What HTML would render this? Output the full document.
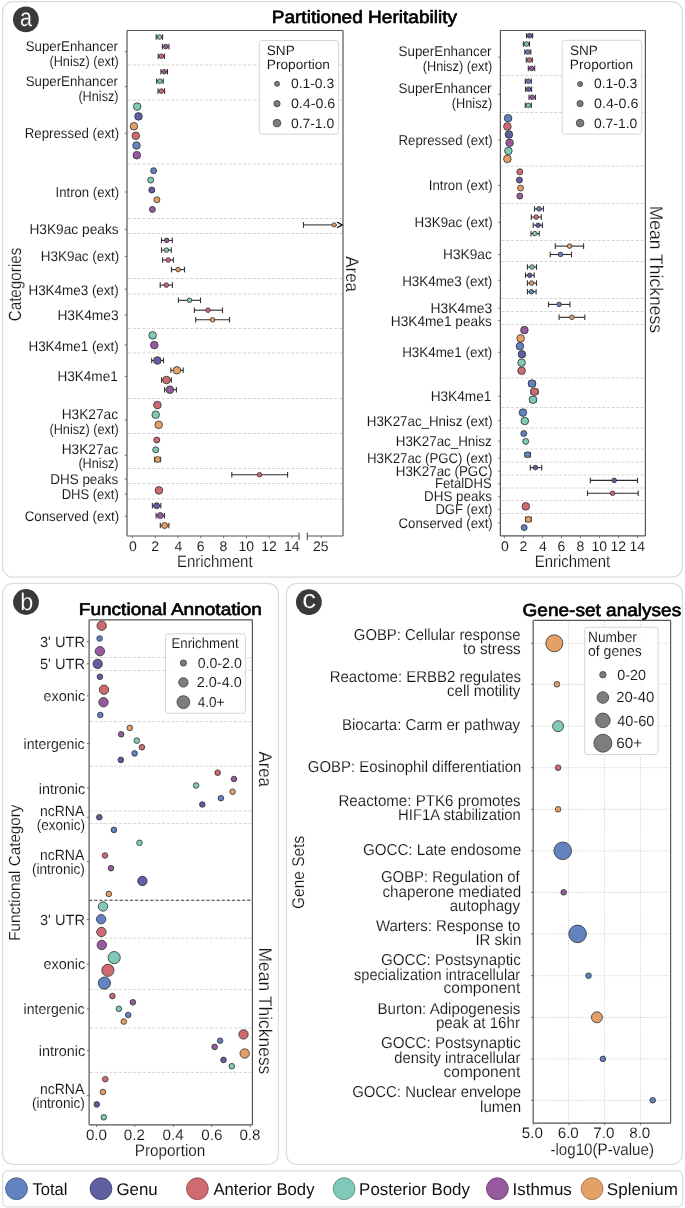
<!DOCTYPE html>
<html><head><meta charset="utf-8"><title>Figure</title>
<style>html,body{margin:0;padding:0;background:#fff;overflow:hidden;}svg{display:block;will-change:transform;text-rendering:geometricPrecision;}
text{font-family:"Liberation Sans", sans-serif;}</style></head>
<body>
<svg width="685" height="1208" viewBox="0 0 685 1208" font-family='"Liberation Sans", sans-serif'>
<rect width="685" height="1208" fill="#fff"/>
<rect x="2.6" y="1.6" width="679.80" height="575.60" rx="10.5" ry="10.5" fill="#fff" stroke="#dcdcdc" stroke-width="1.2"/>
<rect x="2.6" y="583.4" width="275.80" height="581.10" rx="10.5" ry="10.5" fill="#fff" stroke="#dcdcdc" stroke-width="1.2"/>
<rect x="286.4" y="583.4" width="396.00" height="581.10" rx="10.5" ry="10.5" fill="#fff" stroke="#dcdcdc" stroke-width="1.2"/>
<rect x="2.6" y="1170.9" width="680.00" height="36.00" rx="5" ry="5" fill="#fff" stroke="#dcdcdc" stroke-width="1.2"/>
<circle cx="25.9" cy="19.4" r="12.9" fill="#3a3a3a"/>
<circle cx="26.0" cy="602.0" r="12.9" fill="#3a3a3a"/>
<circle cx="308.9" cy="602.1" r="12.9" fill="#3a3a3a"/>
<text x="19.95" y="25.8" font-size="25.5" font-weight="normal" fill="#fff" stroke="#3a3a3a" stroke-width="0.2" textLength="12.00" lengthAdjust="spacingAndGlyphs">a</text>
<text x="20.13" y="610.4" font-size="24.0" font-weight="normal" fill="#fff" stroke="#3a3a3a" stroke-width="0.2" textLength="13.00" lengthAdjust="spacingAndGlyphs">b</text>
<text x="302.34" y="608.0" font-size="26" font-weight="normal" fill="#fff" stroke="#3a3a3a" stroke-width="0.2" textLength="13.83" lengthAdjust="spacingAndGlyphs">c</text>
<line x1="128.0" y1="65.0" x2="342.0" y2="65.0" stroke="#d4d4d4" stroke-width="1.0" stroke-dasharray="3.0 1.8"/>
<line x1="128.0" y1="100.0" x2="342.0" y2="100.0" stroke="#d4d4d4" stroke-width="1.0" stroke-dasharray="3.0 1.8"/>
<line x1="128.0" y1="164.0" x2="342.0" y2="164.0" stroke="#d4d4d4" stroke-width="1.0" stroke-dasharray="3.0 1.8"/>
<line x1="128.0" y1="218.5" x2="342.0" y2="218.5" stroke="#d4d4d4" stroke-width="1.0" stroke-dasharray="3.0 1.8"/>
<line x1="128.0" y1="233.5" x2="342.0" y2="233.5" stroke="#d4d4d4" stroke-width="1.0" stroke-dasharray="3.0 1.8"/>
<line x1="128.0" y1="278.5" x2="342.0" y2="278.5" stroke="#d4d4d4" stroke-width="1.0" stroke-dasharray="3.0 1.8"/>
<line x1="128.0" y1="294.0" x2="342.0" y2="294.0" stroke="#d4d4d4" stroke-width="1.0" stroke-dasharray="3.0 1.8"/>
<line x1="128.0" y1="328.5" x2="342.0" y2="328.5" stroke="#d4d4d4" stroke-width="1.0" stroke-dasharray="3.0 1.8"/>
<line x1="128.0" y1="353.0" x2="342.0" y2="353.0" stroke="#d4d4d4" stroke-width="1.0" stroke-dasharray="3.0 1.8"/>
<line x1="128.0" y1="398.5" x2="342.0" y2="398.5" stroke="#d4d4d4" stroke-width="1.0" stroke-dasharray="3.0 1.8"/>
<line x1="128.0" y1="433.5" x2="342.0" y2="433.5" stroke="#d4d4d4" stroke-width="1.0" stroke-dasharray="3.0 1.8"/>
<line x1="128.0" y1="468.5" x2="342.0" y2="468.5" stroke="#d4d4d4" stroke-width="1.0" stroke-dasharray="3.0 1.8"/>
<line x1="128.0" y1="483.5" x2="342.0" y2="483.5" stroke="#d4d4d4" stroke-width="1.0" stroke-dasharray="3.0 1.8"/>
<line x1="128.0" y1="499.0" x2="342.0" y2="499.0" stroke="#d4d4d4" stroke-width="1.0" stroke-dasharray="3.0 1.8"/>
<rect x="259.3" y="40.5" width="79.20" height="93.70" rx="2.5" ry="2.5" fill="#fff" fill-opacity="0.92" stroke="#d6d6d6" stroke-width="1"/>
<text x="266.79" y="54.5" font-size="13.5" font-weight="normal" fill="#141414" stroke="#fff" stroke-width="0.048" textLength="27.98" lengthAdjust="spacingAndGlyphs">SNP</text>
<text x="266.79" y="68.7" font-size="13.5" font-weight="normal" fill="#141414" stroke="#fff" stroke-width="0.048" textLength="63.22" lengthAdjust="spacingAndGlyphs">Proportion</text>
<circle cx="277.00" cy="83.80" r="2.5" fill="#7d7d7d" stroke="#3a3a3a" stroke-width="0.8"/>
<text x="290.90" y="88.3" font-size="13.5" font-weight="normal" fill="#141414" stroke="#fff" stroke-width="0.048" textLength="43.33" lengthAdjust="spacingAndGlyphs">0.1-0.3</text>
<circle cx="277.00" cy="103.70" r="3.1" fill="#7d7d7d" stroke="#3a3a3a" stroke-width="0.8"/>
<text x="290.90" y="108.1" font-size="13.5" font-weight="normal" fill="#141414" stroke="#fff" stroke-width="0.048" textLength="44.39" lengthAdjust="spacingAndGlyphs">0.4-0.6</text>
<circle cx="277.00" cy="123.10" r="3.8" fill="#7d7d7d" stroke="#3a3a3a" stroke-width="0.8"/>
<text x="290.90" y="127.6" font-size="13.5" font-weight="normal" fill="#141414" stroke="#fff" stroke-width="0.048" textLength="43.33" lengthAdjust="spacingAndGlyphs">0.7-1.0</text>
<line x1="127.0" y1="30.5" x2="343.0" y2="30.5" stroke="#555" stroke-width="1.2"/>
<line x1="127.0" y1="30.5" x2="127.0" y2="536.0" stroke="#555" stroke-width="1.2"/>
<line x1="343.0" y1="30.5" x2="343.0" y2="536.0" stroke="#555" stroke-width="1.2"/>
<line x1="127.0" y1="536.0" x2="299.1" y2="536.0" stroke="#555" stroke-width="1.2"/>
<line x1="307.3" y1="536.0" x2="343.0" y2="536.0" stroke="#555" stroke-width="1.2"/>
<line x1="299.1" y1="532.4" x2="299.1" y2="540.2" stroke="#555" stroke-width="1.1"/>
<line x1="307.3" y1="532.4" x2="307.3" y2="540.2" stroke="#555" stroke-width="1.1"/>
<line x1="132.4" y1="536.0" x2="132.4" y2="538.2" stroke="#666" stroke-width="0.9"/>
<text x="128.90" y="550.7" font-size="14.0" font-weight="normal" fill="#141414" stroke="#fff" stroke-width="0.065" >0</text>
<line x1="155.20000000000002" y1="536.0" x2="155.20000000000002" y2="538.2" stroke="#666" stroke-width="0.9"/>
<text x="151.20" y="550.7" font-size="14.0" font-weight="normal" fill="#141414" stroke="#fff" stroke-width="0.065" >2</text>
<line x1="178.0" y1="536.0" x2="178.0" y2="538.2" stroke="#666" stroke-width="0.9"/>
<text x="174.50" y="550.7" font-size="14.0" font-weight="normal" fill="#141414" stroke="#fff" stroke-width="0.065" >4</text>
<line x1="200.8" y1="536.0" x2="200.8" y2="538.2" stroke="#666" stroke-width="0.9"/>
<text x="196.80" y="550.7" font-size="14.0" font-weight="normal" fill="#141414" stroke="#fff" stroke-width="0.065" >6</text>
<line x1="223.60000000000002" y1="536.0" x2="223.60000000000002" y2="538.2" stroke="#666" stroke-width="0.9"/>
<text x="219.60" y="550.7" font-size="14.0" font-weight="normal" fill="#141414" stroke="#fff" stroke-width="0.065" >8</text>
<line x1="246.4" y1="536.0" x2="246.4" y2="538.2" stroke="#666" stroke-width="0.9"/>
<text x="238.40" y="550.7" font-size="14.0" font-weight="normal" fill="#141414" stroke="#fff" stroke-width="0.065" >10</text>
<line x1="269.20000000000005" y1="536.0" x2="269.20000000000005" y2="538.2" stroke="#666" stroke-width="0.9"/>
<text x="261.20" y="550.7" font-size="14.0" font-weight="normal" fill="#141414" stroke="#fff" stroke-width="0.065" >12</text>
<line x1="292.0" y1="536.0" x2="292.0" y2="538.2" stroke="#666" stroke-width="0.9"/>
<text x="284.00" y="550.7" font-size="14.0" font-weight="normal" fill="#141414" stroke="#fff" stroke-width="0.065" >14</text>
<line x1="321.3" y1="536.0" x2="321.3" y2="538.2" stroke="#666" stroke-width="0.9"/>
<text x="313.00" y="550.7" font-size="14.0" font-weight="normal" fill="#141414" stroke="#fff" stroke-width="0.065" >25</text>
<text x="176.91" y="566.7" font-size="16.8" font-weight="normal" fill="#141414" stroke="#fff" stroke-width="0.163" textLength="75.68" lengthAdjust="spacingAndGlyphs">Enrichment</text>
<text x="-0.87" y="0" font-size="17.6" font-weight="normal" fill="#141414" stroke="#fff" stroke-width="0.191" textLength="73.75" lengthAdjust="spacingAndGlyphs" transform="translate(20.9,320.5) rotate(-90)">Categories</text>
<text x="0.00" y="0" font-size="18.4" font-weight="normal" fill="#141414" stroke="#fff" stroke-width="0.219" textLength="35.67" lengthAdjust="spacingAndGlyphs" transform="translate(346.1,256.3) rotate(90)">Area</text>
<text x="25.66" y="50.5" font-size="14.1" font-weight="normal" fill="#141414" stroke="#fff" stroke-width="0.068" textLength="92.30" lengthAdjust="spacingAndGlyphs">SuperEnhancer</text>
<text x="49.40" y="66.0" font-size="14.1" font-weight="normal" fill="#141414" stroke="#fff" stroke-width="0.068" textLength="69.27" lengthAdjust="spacingAndGlyphs">(Hnisz) (ext)</text>
<text x="25.66" y="85.6" font-size="14.1" font-weight="normal" fill="#141414" stroke="#fff" stroke-width="0.068" textLength="92.30" lengthAdjust="spacingAndGlyphs">SuperEnhancer</text>
<text x="78.40" y="100.6" font-size="14.1" font-weight="normal" fill="#141414" stroke="#fff" stroke-width="0.068" textLength="40.18" lengthAdjust="spacingAndGlyphs">(Hnisz)</text>
<text x="24.66" y="137.8" font-size="14.1" font-weight="normal" fill="#141414" stroke="#fff" stroke-width="0.068" textLength="94.54" lengthAdjust="spacingAndGlyphs">Repressed (ext)</text>
<text x="55.57" y="197.0" font-size="14.1" font-weight="normal" fill="#141414" stroke="#fff" stroke-width="0.068" textLength="63.51" lengthAdjust="spacingAndGlyphs">Intron (ext)</text>
<text x="29.43" y="234.0" font-size="14.1" font-weight="normal" fill="#141414" stroke="#fff" stroke-width="0.068" textLength="89.23" lengthAdjust="spacingAndGlyphs">H3K9ac peaks</text>
<text x="40.75" y="261.0" font-size="14.1" font-weight="normal" fill="#141414" stroke="#fff" stroke-width="0.068" textLength="78.45" lengthAdjust="spacingAndGlyphs">H3K9ac (ext)</text>
<text x="28.45" y="294.6" font-size="14.1" font-weight="normal" fill="#141414" stroke="#fff" stroke-width="0.068" textLength="90.30" lengthAdjust="spacingAndGlyphs">H3K4me3 (ext)</text>
<text x="57.42" y="320.2" font-size="14.1" font-weight="normal" fill="#141414" stroke="#fff" stroke-width="0.068" textLength="61.23" lengthAdjust="spacingAndGlyphs">H3K4me3</text>
<text x="28.45" y="350.6" font-size="14.1" font-weight="normal" fill="#141414" stroke="#fff" stroke-width="0.068" textLength="90.30" lengthAdjust="spacingAndGlyphs">H3K4me1 (ext)</text>
<text x="57.44" y="381.1" font-size="14.1" font-weight="normal" fill="#141414" stroke="#fff" stroke-width="0.068" textLength="60.31" lengthAdjust="spacingAndGlyphs">H3K4me1</text>
<text x="61.63" y="418.6" font-size="14.1" font-weight="normal" fill="#141414" stroke="#fff" stroke-width="0.068" textLength="56.36" lengthAdjust="spacingAndGlyphs">H3K27ac</text>
<text x="49.40" y="433.8" font-size="14.1" font-weight="normal" fill="#141414" stroke="#fff" stroke-width="0.068" textLength="69.27" lengthAdjust="spacingAndGlyphs">(Hnisz) (ext)</text>
<text x="61.63" y="453.7" font-size="14.1" font-weight="normal" fill="#141414" stroke="#fff" stroke-width="0.068" textLength="56.36" lengthAdjust="spacingAndGlyphs">H3K27ac</text>
<text x="78.40" y="468.3" font-size="14.1" font-weight="normal" fill="#141414" stroke="#fff" stroke-width="0.068" textLength="40.18" lengthAdjust="spacingAndGlyphs">(Hnisz)</text>
<text x="50.25" y="484.0" font-size="14.1" font-weight="normal" fill="#141414" stroke="#fff" stroke-width="0.068" textLength="68.02" lengthAdjust="spacingAndGlyphs">DHS peaks</text>
<text x="61.68" y="499.2" font-size="14.1" font-weight="normal" fill="#141414" stroke="#fff" stroke-width="0.068" textLength="57.13" lengthAdjust="spacingAndGlyphs">DHS (ext)</text>
<text x="24.66" y="521.4" font-size="14.1" font-weight="normal" fill="#141414" stroke="#fff" stroke-width="0.068" textLength="94.54" lengthAdjust="spacingAndGlyphs">Conserved (ext)</text>
<line x1="124.8" y1="51.7" x2="127.0" y2="51.7" stroke="#666" stroke-width="0.9"/>
<line x1="124.8" y1="86.6" x2="127.0" y2="86.6" stroke="#666" stroke-width="0.9"/>
<line x1="124.8" y1="133.3" x2="127.0" y2="133.3" stroke="#666" stroke-width="0.9"/>
<line x1="124.8" y1="192.0" x2="127.0" y2="192.0" stroke="#666" stroke-width="0.9"/>
<line x1="124.8" y1="229.4" x2="127.0" y2="229.4" stroke="#666" stroke-width="0.9"/>
<line x1="124.8" y1="256.4" x2="127.0" y2="256.4" stroke="#666" stroke-width="0.9"/>
<line x1="124.8" y1="289.2" x2="127.0" y2="289.2" stroke="#666" stroke-width="0.9"/>
<line x1="124.8" y1="315.1" x2="127.0" y2="315.1" stroke="#666" stroke-width="0.9"/>
<line x1="124.8" y1="344.9" x2="127.0" y2="344.9" stroke="#666" stroke-width="0.9"/>
<line x1="124.8" y1="376.4" x2="127.0" y2="376.4" stroke="#666" stroke-width="0.9"/>
<line x1="124.8" y1="420.0" x2="127.0" y2="420.0" stroke="#666" stroke-width="0.9"/>
<line x1="124.8" y1="455.3" x2="127.0" y2="455.3" stroke="#666" stroke-width="0.9"/>
<line x1="124.8" y1="479.1" x2="127.0" y2="479.1" stroke="#666" stroke-width="0.9"/>
<line x1="124.8" y1="494.2" x2="127.0" y2="494.2" stroke="#666" stroke-width="0.9"/>
<line x1="124.8" y1="516.3" x2="127.0" y2="516.3" stroke="#666" stroke-width="0.9"/>
<line x1="156.2" y1="37.0" x2="162.6" y2="37.0" stroke="#2a2a2a" stroke-width="1.1"/>
<line x1="156.2" y1="34.20" x2="156.2" y2="39.80" stroke="#333" stroke-width="1.1"/>
<line x1="162.6" y1="34.20" x2="162.6" y2="39.80" stroke="#333" stroke-width="1.1"/>
<circle cx="159.40" cy="37.00" r="2.3" fill="#80C9B9" stroke="#2e2e2e" stroke-width="0.8"/>
<line x1="162.4" y1="46.6" x2="169.0" y2="46.6" stroke="#2a2a2a" stroke-width="1.1"/>
<line x1="162.4" y1="43.80" x2="162.4" y2="49.40" stroke="#333" stroke-width="1.1"/>
<line x1="169.0" y1="43.80" x2="169.0" y2="49.40" stroke="#333" stroke-width="1.1"/>
<circle cx="165.70" cy="46.60" r="2.3" fill="#985A9E" stroke="#2e2e2e" stroke-width="0.8"/>
<line x1="158.2" y1="56.2" x2="164.4" y2="56.2" stroke="#2a2a2a" stroke-width="1.1"/>
<line x1="158.2" y1="53.40" x2="158.2" y2="59.00" stroke="#333" stroke-width="1.1"/>
<line x1="164.4" y1="53.40" x2="164.4" y2="59.00" stroke="#333" stroke-width="1.1"/>
<circle cx="161.30" cy="56.20" r="2.3" fill="#CF6B70" stroke="#2e2e2e" stroke-width="0.8"/>
<line x1="160.9" y1="71.7" x2="167.5" y2="71.7" stroke="#2a2a2a" stroke-width="1.1"/>
<line x1="160.9" y1="68.90" x2="160.9" y2="74.50" stroke="#333" stroke-width="1.1"/>
<line x1="167.5" y1="68.90" x2="167.5" y2="74.50" stroke="#333" stroke-width="1.1"/>
<circle cx="164.20" cy="71.70" r="2.3" fill="#985A9E" stroke="#2e2e2e" stroke-width="0.8"/>
<line x1="156.6" y1="81.2" x2="163.2" y2="81.2" stroke="#2a2a2a" stroke-width="1.1"/>
<line x1="156.6" y1="78.40" x2="156.6" y2="84.00" stroke="#333" stroke-width="1.1"/>
<line x1="163.2" y1="78.40" x2="163.2" y2="84.00" stroke="#333" stroke-width="1.1"/>
<circle cx="159.90" cy="81.20" r="2.3" fill="#80C9B9" stroke="#2e2e2e" stroke-width="0.8"/>
<line x1="158.0" y1="91.1" x2="164.6" y2="91.1" stroke="#2a2a2a" stroke-width="1.1"/>
<line x1="158.0" y1="88.30" x2="158.0" y2="93.90" stroke="#333" stroke-width="1.1"/>
<line x1="164.6" y1="88.30" x2="164.6" y2="93.90" stroke="#333" stroke-width="1.1"/>
<circle cx="161.30" cy="91.10" r="2.3" fill="#CF6B70" stroke="#2e2e2e" stroke-width="0.8"/>
<circle cx="137.20" cy="106.60" r="3.8" fill="#80C9B9" stroke="#2e2e2e" stroke-width="0.8"/>
<circle cx="138.50" cy="116.40" r="3.8" fill="#5E5FA0" stroke="#2e2e2e" stroke-width="0.8"/>
<circle cx="133.90" cy="126.30" r="3.8" fill="#E5A067" stroke="#2e2e2e" stroke-width="0.8"/>
<circle cx="135.80" cy="135.80" r="3.8" fill="#CF6B70" stroke="#2e2e2e" stroke-width="0.8"/>
<circle cx="136.50" cy="145.50" r="3.8" fill="#6283C0" stroke="#2e2e2e" stroke-width="0.8"/>
<circle cx="136.80" cy="155.20" r="3.8" fill="#985A9E" stroke="#2e2e2e" stroke-width="0.8"/>
<circle cx="153.60" cy="170.70" r="3.0" fill="#6283C0" stroke="#2e2e2e" stroke-width="0.8"/>
<circle cx="150.70" cy="180.10" r="3.0" fill="#80C9B9" stroke="#2e2e2e" stroke-width="0.8"/>
<circle cx="151.80" cy="190.00" r="3.0" fill="#5E5FA0" stroke="#2e2e2e" stroke-width="0.8"/>
<circle cx="156.90" cy="199.80" r="3.0" fill="#E5A067" stroke="#2e2e2e" stroke-width="0.8"/>
<circle cx="152.40" cy="209.40" r="3.0" fill="#985A9E" stroke="#2e2e2e" stroke-width="0.8"/>
<line x1="161.5" y1="240.4" x2="172.3" y2="240.4" stroke="#2a2a2a" stroke-width="1.1"/>
<line x1="161.5" y1="237.60" x2="161.5" y2="243.20" stroke="#333" stroke-width="1.1"/>
<line x1="172.3" y1="237.60" x2="172.3" y2="243.20" stroke="#333" stroke-width="1.1"/>
<circle cx="166.70" cy="240.40" r="2.3" fill="#985A9E" stroke="#2e2e2e" stroke-width="0.8"/>
<line x1="161.5" y1="250.1" x2="171.3" y2="250.1" stroke="#2a2a2a" stroke-width="1.1"/>
<line x1="161.5" y1="247.30" x2="161.5" y2="252.90" stroke="#333" stroke-width="1.1"/>
<line x1="171.3" y1="247.30" x2="171.3" y2="252.90" stroke="#333" stroke-width="1.1"/>
<circle cx="166.40" cy="250.10" r="2.3" fill="#80C9B9" stroke="#2e2e2e" stroke-width="0.8"/>
<line x1="162.6" y1="260.0" x2="173.4" y2="260.0" stroke="#2a2a2a" stroke-width="1.1"/>
<line x1="162.6" y1="257.20" x2="162.6" y2="262.80" stroke="#333" stroke-width="1.1"/>
<line x1="173.4" y1="257.20" x2="173.4" y2="262.80" stroke="#333" stroke-width="1.1"/>
<circle cx="168.20" cy="260.00" r="2.3" fill="#CF6B70" stroke="#2e2e2e" stroke-width="0.8"/>
<line x1="171.5" y1="269.6" x2="184.5" y2="269.6" stroke="#2a2a2a" stroke-width="1.1"/>
<line x1="171.5" y1="266.80" x2="171.5" y2="272.40" stroke="#333" stroke-width="1.1"/>
<line x1="184.5" y1="266.80" x2="184.5" y2="272.40" stroke="#333" stroke-width="1.1"/>
<circle cx="178.10" cy="269.60" r="2.3" fill="#E5A067" stroke="#2e2e2e" stroke-width="0.8"/>
<line x1="160.2" y1="285.1" x2="172.4" y2="285.1" stroke="#2a2a2a" stroke-width="1.1"/>
<line x1="160.2" y1="282.30" x2="160.2" y2="287.90" stroke="#333" stroke-width="1.1"/>
<line x1="172.4" y1="282.30" x2="172.4" y2="287.90" stroke="#333" stroke-width="1.1"/>
<circle cx="166.30" cy="285.10" r="2.3" fill="#CF6B70" stroke="#2e2e2e" stroke-width="0.8"/>
<line x1="178.4" y1="300.3" x2="200.5" y2="300.3" stroke="#2a2a2a" stroke-width="1.1"/>
<line x1="178.4" y1="297.50" x2="178.4" y2="303.10" stroke="#333" stroke-width="1.1"/>
<line x1="200.5" y1="297.50" x2="200.5" y2="303.10" stroke="#333" stroke-width="1.1"/>
<circle cx="189.50" cy="300.30" r="2.3" fill="#80C9B9" stroke="#2e2e2e" stroke-width="0.8"/>
<line x1="194.4" y1="310.2" x2="222.5" y2="310.2" stroke="#2a2a2a" stroke-width="1.1"/>
<line x1="194.4" y1="307.40" x2="194.4" y2="313.00" stroke="#333" stroke-width="1.1"/>
<line x1="222.5" y1="307.40" x2="222.5" y2="313.00" stroke="#333" stroke-width="1.1"/>
<circle cx="208.00" cy="310.20" r="2.3" fill="#CF6B70" stroke="#2e2e2e" stroke-width="0.8"/>
<line x1="195.7" y1="319.8" x2="229.5" y2="319.8" stroke="#2a2a2a" stroke-width="1.1"/>
<line x1="195.7" y1="317.00" x2="195.7" y2="322.60" stroke="#333" stroke-width="1.1"/>
<line x1="229.5" y1="317.00" x2="229.5" y2="322.60" stroke="#333" stroke-width="1.1"/>
<circle cx="212.60" cy="319.80" r="2.3" fill="#E5A067" stroke="#2e2e2e" stroke-width="0.8"/>
<circle cx="152.60" cy="335.40" r="3.8" fill="#80C9B9" stroke="#2e2e2e" stroke-width="0.8"/>
<circle cx="154.30" cy="345.10" r="3.8" fill="#985A9E" stroke="#2e2e2e" stroke-width="0.8"/>
<line x1="151.7" y1="360.5" x2="163.5" y2="360.5" stroke="#2a2a2a" stroke-width="1.1"/>
<line x1="151.7" y1="357.70" x2="151.7" y2="363.30" stroke="#333" stroke-width="1.1"/>
<line x1="163.5" y1="357.70" x2="163.5" y2="363.30" stroke="#333" stroke-width="1.1"/>
<circle cx="157.40" cy="360.50" r="3.8" fill="#5E5FA0" stroke="#2e2e2e" stroke-width="0.8"/>
<line x1="170.9" y1="370.3" x2="183.2" y2="370.3" stroke="#2a2a2a" stroke-width="1.1"/>
<line x1="170.9" y1="367.50" x2="170.9" y2="373.10" stroke="#333" stroke-width="1.1"/>
<line x1="183.2" y1="367.50" x2="183.2" y2="373.10" stroke="#333" stroke-width="1.1"/>
<circle cx="176.90" cy="370.30" r="3.8" fill="#E5A067" stroke="#2e2e2e" stroke-width="0.8"/>
<line x1="161.6" y1="380.0" x2="171.4" y2="380.0" stroke="#2a2a2a" stroke-width="1.1"/>
<line x1="161.6" y1="377.20" x2="161.6" y2="382.80" stroke="#333" stroke-width="1.1"/>
<line x1="171.4" y1="377.20" x2="171.4" y2="382.80" stroke="#333" stroke-width="1.1"/>
<circle cx="166.50" cy="380.00" r="3.8" fill="#CF6B70" stroke="#2e2e2e" stroke-width="0.8"/>
<line x1="164.6" y1="389.7" x2="176.4" y2="389.7" stroke="#2a2a2a" stroke-width="1.1"/>
<line x1="164.6" y1="386.90" x2="164.6" y2="392.50" stroke="#333" stroke-width="1.1"/>
<line x1="176.4" y1="386.90" x2="176.4" y2="392.50" stroke="#333" stroke-width="1.1"/>
<circle cx="169.90" cy="389.70" r="3.8" fill="#985A9E" stroke="#2e2e2e" stroke-width="0.8"/>
<circle cx="157.40" cy="405.10" r="3.8" fill="#CF6B70" stroke="#2e2e2e" stroke-width="0.8"/>
<circle cx="155.70" cy="414.70" r="3.8" fill="#80C9B9" stroke="#2e2e2e" stroke-width="0.8"/>
<circle cx="158.70" cy="424.80" r="3.8" fill="#E5A067" stroke="#2e2e2e" stroke-width="0.8"/>
<circle cx="156.80" cy="440.00" r="3.0" fill="#CF6B70" stroke="#2e2e2e" stroke-width="0.8"/>
<circle cx="155.70" cy="449.80" r="3.0" fill="#80C9B9" stroke="#2e2e2e" stroke-width="0.8"/>
<line x1="154.6" y1="459.5" x2="160.6" y2="459.5" stroke="#2a2a2a" stroke-width="1.1"/>
<line x1="154.6" y1="456.70" x2="154.6" y2="462.30" stroke="#333" stroke-width="1.1"/>
<line x1="160.6" y1="456.70" x2="160.6" y2="462.30" stroke="#333" stroke-width="1.1"/>
<circle cx="157.60" cy="459.50" r="3.0" fill="#E5A067" stroke="#2e2e2e" stroke-width="0.8"/>
<line x1="231.8" y1="474.7" x2="287.6" y2="474.7" stroke="#2a2a2a" stroke-width="1.1"/>
<line x1="231.8" y1="471.90" x2="231.8" y2="477.50" stroke="#333" stroke-width="1.1"/>
<line x1="287.6" y1="471.90" x2="287.6" y2="477.50" stroke="#333" stroke-width="1.1"/>
<circle cx="259.50" cy="474.70" r="2.3" fill="#CF6B70" stroke="#2e2e2e" stroke-width="0.8"/>
<circle cx="158.90" cy="490.40" r="3.8" fill="#CF6B70" stroke="#2e2e2e" stroke-width="0.8"/>
<line x1="152.4" y1="505.7" x2="160.8" y2="505.7" stroke="#2a2a2a" stroke-width="1.1"/>
<line x1="152.4" y1="502.90" x2="152.4" y2="508.50" stroke="#333" stroke-width="1.1"/>
<line x1="160.8" y1="502.90" x2="160.8" y2="508.50" stroke="#333" stroke-width="1.1"/>
<circle cx="156.60" cy="505.70" r="3.0" fill="#5E5FA0" stroke="#2e2e2e" stroke-width="0.8"/>
<line x1="156.1" y1="515.6" x2="164.5" y2="515.6" stroke="#2a2a2a" stroke-width="1.1"/>
<line x1="156.1" y1="512.80" x2="156.1" y2="518.40" stroke="#333" stroke-width="1.1"/>
<line x1="164.5" y1="512.80" x2="164.5" y2="518.40" stroke="#333" stroke-width="1.1"/>
<circle cx="160.30" cy="515.60" r="3.0" fill="#985A9E" stroke="#2e2e2e" stroke-width="0.8"/>
<line x1="160.3" y1="525.5" x2="168.9" y2="525.5" stroke="#2a2a2a" stroke-width="1.1"/>
<line x1="160.3" y1="522.70" x2="160.3" y2="528.30" stroke="#333" stroke-width="1.1"/>
<line x1="168.9" y1="522.70" x2="168.9" y2="528.30" stroke="#333" stroke-width="1.1"/>
<circle cx="164.60" cy="525.50" r="3.0" fill="#E5A067" stroke="#2e2e2e" stroke-width="0.8"/>
<line x1="303.5" y1="224.9" x2="337" y2="224.9" stroke="#555" stroke-width="1.1"/>
<line x1="303.5" y1="222.0" x2="303.5" y2="227.8" stroke="#333" stroke-width="1.1"/>
<circle cx="334.10" cy="224.90" r="2.1" fill="#E5A067" stroke="#2e2e2e" stroke-width="0.8"/>
<polyline points="337.0,222.0 342.3,224.9 337.0,227.8" fill="none" stroke="#111" stroke-width="1.3"/>
<line x1="501.4" y1="75.5" x2="644.4" y2="75.5" stroke="#d4d4d4" stroke-width="1.0" stroke-dasharray="3.0 1.8"/>
<line x1="501.4" y1="112.5" x2="644.4" y2="112.5" stroke="#d4d4d4" stroke-width="1.0" stroke-dasharray="3.0 1.8"/>
<line x1="501.4" y1="166.0" x2="644.4" y2="166.0" stroke="#d4d4d4" stroke-width="1.0" stroke-dasharray="3.0 1.8"/>
<line x1="501.4" y1="203.5" x2="644.4" y2="203.5" stroke="#d4d4d4" stroke-width="1.0" stroke-dasharray="3.0 1.8"/>
<line x1="501.4" y1="240.5" x2="644.4" y2="240.5" stroke="#d4d4d4" stroke-width="1.0" stroke-dasharray="3.0 1.8"/>
<line x1="501.4" y1="261.5" x2="644.4" y2="261.5" stroke="#d4d4d4" stroke-width="1.0" stroke-dasharray="3.0 1.8"/>
<line x1="501.4" y1="298.5" x2="644.4" y2="298.5" stroke="#d4d4d4" stroke-width="1.0" stroke-dasharray="3.0 1.8"/>
<line x1="501.4" y1="311.5" x2="644.4" y2="311.5" stroke="#d4d4d4" stroke-width="1.0" stroke-dasharray="3.0 1.8"/>
<line x1="501.4" y1="324.5" x2="644.4" y2="324.5" stroke="#d4d4d4" stroke-width="1.0" stroke-dasharray="3.0 1.8"/>
<line x1="501.4" y1="378.0" x2="644.4" y2="378.0" stroke="#d4d4d4" stroke-width="1.0" stroke-dasharray="3.0 1.8"/>
<line x1="501.4" y1="407.5" x2="644.4" y2="407.5" stroke="#d4d4d4" stroke-width="1.0" stroke-dasharray="3.0 1.8"/>
<line x1="501.4" y1="428.0" x2="644.4" y2="428.0" stroke="#d4d4d4" stroke-width="1.0" stroke-dasharray="3.0 1.8"/>
<line x1="501.4" y1="449.0" x2="644.4" y2="449.0" stroke="#d4d4d4" stroke-width="1.0" stroke-dasharray="3.0 1.8"/>
<line x1="501.4" y1="462.0" x2="644.4" y2="462.0" stroke="#d4d4d4" stroke-width="1.0" stroke-dasharray="3.0 1.8"/>
<line x1="501.4" y1="475.0" x2="644.4" y2="475.0" stroke="#d4d4d4" stroke-width="1.0" stroke-dasharray="3.0 1.8"/>
<line x1="501.4" y1="488.0" x2="644.4" y2="488.0" stroke="#d4d4d4" stroke-width="1.0" stroke-dasharray="3.0 1.8"/>
<line x1="501.4" y1="500.5" x2="644.4" y2="500.5" stroke="#d4d4d4" stroke-width="1.0" stroke-dasharray="3.0 1.8"/>
<line x1="501.4" y1="513.5" x2="644.4" y2="513.5" stroke="#d4d4d4" stroke-width="1.0" stroke-dasharray="3.0 1.8"/>
<rect x="562.2" y="40.3" width="79.40" height="93.80" rx="2.5" ry="2.5" fill="#fff" fill-opacity="0.92" stroke="#d6d6d6" stroke-width="1"/>
<text x="569.90" y="54.5" font-size="13.5" font-weight="normal" fill="#141414" stroke="#fff" stroke-width="0.048" textLength="27.87" lengthAdjust="spacingAndGlyphs">SNP</text>
<text x="569.89" y="68.7" font-size="13.5" font-weight="normal" fill="#141414" stroke="#fff" stroke-width="0.048" textLength="63.22" lengthAdjust="spacingAndGlyphs">Proportion</text>
<circle cx="580.10" cy="84.10" r="2.5" fill="#7d7d7d" stroke="#3a3a3a" stroke-width="0.8"/>
<text x="594.00" y="88.3" font-size="13.5" font-weight="normal" fill="#141414" stroke="#fff" stroke-width="0.048" textLength="43.33" lengthAdjust="spacingAndGlyphs">0.1-0.3</text>
<circle cx="580.10" cy="103.60" r="3.1" fill="#7d7d7d" stroke="#3a3a3a" stroke-width="0.8"/>
<text x="594.00" y="108.1" font-size="13.5" font-weight="normal" fill="#141414" stroke="#fff" stroke-width="0.048" textLength="44.39" lengthAdjust="spacingAndGlyphs">0.4-0.6</text>
<circle cx="580.10" cy="123.10" r="3.8" fill="#7d7d7d" stroke="#3a3a3a" stroke-width="0.8"/>
<text x="594.00" y="127.6" font-size="13.5" font-weight="normal" fill="#141414" stroke="#fff" stroke-width="0.048" textLength="43.33" lengthAdjust="spacingAndGlyphs">0.7-1.0</text>
<line x1="500.4" y1="30.5" x2="645.4" y2="30.5" stroke="#555" stroke-width="1.2"/>
<line x1="500.4" y1="535.9" x2="645.4" y2="535.9" stroke="#555" stroke-width="1.2"/>
<line x1="500.4" y1="30.5" x2="500.4" y2="535.9" stroke="#555" stroke-width="1.2"/>
<line x1="645.4" y1="30.5" x2="645.4" y2="535.9" stroke="#555" stroke-width="1.2"/>
<line x1="504.4" y1="535.9" x2="504.4" y2="538.1" stroke="#666" stroke-width="0.9"/>
<text x="500.90" y="550.8" font-size="14.0" font-weight="normal" fill="#141414" stroke="#fff" stroke-width="0.065" >0</text>
<line x1="523.42" y1="535.9" x2="523.42" y2="538.1" stroke="#666" stroke-width="0.9"/>
<text x="519.42" y="550.8" font-size="14.0" font-weight="normal" fill="#141414" stroke="#fff" stroke-width="0.065" >2</text>
<line x1="542.4399999999999" y1="535.9" x2="542.4399999999999" y2="538.1" stroke="#666" stroke-width="0.9"/>
<text x="538.94" y="550.8" font-size="14.0" font-weight="normal" fill="#141414" stroke="#fff" stroke-width="0.065" >4</text>
<line x1="561.46" y1="535.9" x2="561.46" y2="538.1" stroke="#666" stroke-width="0.9"/>
<text x="557.46" y="550.8" font-size="14.0" font-weight="normal" fill="#141414" stroke="#fff" stroke-width="0.065" >6</text>
<line x1="580.48" y1="535.9" x2="580.48" y2="538.1" stroke="#666" stroke-width="0.9"/>
<text x="576.48" y="550.8" font-size="14.0" font-weight="normal" fill="#141414" stroke="#fff" stroke-width="0.065" >8</text>
<line x1="599.5" y1="535.9" x2="599.5" y2="538.1" stroke="#666" stroke-width="0.9"/>
<text x="591.50" y="550.8" font-size="14.0" font-weight="normal" fill="#141414" stroke="#fff" stroke-width="0.065" >10</text>
<line x1="618.52" y1="535.9" x2="618.52" y2="538.1" stroke="#666" stroke-width="0.9"/>
<text x="610.52" y="550.8" font-size="14.0" font-weight="normal" fill="#141414" stroke="#fff" stroke-width="0.065" >12</text>
<line x1="637.54" y1="535.9" x2="637.54" y2="538.1" stroke="#666" stroke-width="0.9"/>
<text x="629.54" y="550.8" font-size="14.0" font-weight="normal" fill="#141414" stroke="#fff" stroke-width="0.065" >14</text>
<text x="534.71" y="566.7" font-size="16.8" font-weight="normal" fill="#141414" stroke="#fff" stroke-width="0.163" textLength="75.38" lengthAdjust="spacingAndGlyphs">Enrichment</text>
<text x="-0.95" y="0" font-size="18.4" font-weight="normal" fill="#141414" stroke="#fff" stroke-width="0.219" textLength="127.30" lengthAdjust="spacingAndGlyphs" transform="translate(649.6,206.6) rotate(90)">Mean Thickness</text>
<text x="398.55" y="55.9" font-size="14.1" font-weight="normal" fill="#141414" stroke="#fff" stroke-width="0.068" textLength="93.00" lengthAdjust="spacingAndGlyphs">SuperEnhancer</text>
<text x="422.69" y="71.1" font-size="14.1" font-weight="normal" fill="#141414" stroke="#fff" stroke-width="0.068" textLength="69.57" lengthAdjust="spacingAndGlyphs">(Hnisz) (ext)</text>
<text x="398.55" y="92.9" font-size="14.1" font-weight="normal" fill="#141414" stroke="#fff" stroke-width="0.068" textLength="93.00" lengthAdjust="spacingAndGlyphs">SuperEnhancer</text>
<text x="451.80" y="107.9" font-size="14.1" font-weight="normal" fill="#141414" stroke="#fff" stroke-width="0.068" textLength="40.38" lengthAdjust="spacingAndGlyphs">(Hnisz)</text>
<text x="398.56" y="145.1" font-size="14.1" font-weight="normal" fill="#141414" stroke="#fff" stroke-width="0.068" textLength="94.23" lengthAdjust="spacingAndGlyphs">Repressed (ext)</text>
<text x="428.76" y="190.2" font-size="14.1" font-weight="normal" fill="#141414" stroke="#fff" stroke-width="0.068" textLength="63.92" lengthAdjust="spacingAndGlyphs">Intron (ext)</text>
<text x="414.55" y="227.4" font-size="14.1" font-weight="normal" fill="#141414" stroke="#fff" stroke-width="0.068" textLength="78.24" lengthAdjust="spacingAndGlyphs">H3K9ac (ext)</text>
<text x="443.03" y="259.1" font-size="14.1" font-weight="normal" fill="#141414" stroke="#fff" stroke-width="0.068" textLength="48.71" lengthAdjust="spacingAndGlyphs">H3K9ac</text>
<text x="402.15" y="285.6" font-size="14.1" font-weight="normal" fill="#141414" stroke="#fff" stroke-width="0.068" textLength="90.20" lengthAdjust="spacingAndGlyphs">H3K4me3 (ext)</text>
<text x="430.62" y="313.3" font-size="14.1" font-weight="normal" fill="#141414" stroke="#fff" stroke-width="0.068" textLength="61.64" lengthAdjust="spacingAndGlyphs">H3K4me3</text>
<text x="390.83" y="326.0" font-size="14.1" font-weight="normal" fill="#141414" stroke="#fff" stroke-width="0.068" textLength="100.97" lengthAdjust="spacingAndGlyphs">H3K4me1 peaks</text>
<text x="402.15" y="357.3" font-size="14.1" font-weight="normal" fill="#141414" stroke="#fff" stroke-width="0.068" textLength="90.20" lengthAdjust="spacingAndGlyphs">H3K4me1 (ext)</text>
<text x="430.63" y="400.8" font-size="14.1" font-weight="normal" fill="#141414" stroke="#fff" stroke-width="0.068" textLength="60.72" lengthAdjust="spacingAndGlyphs">H3K4me1</text>
<text x="366.75" y="426.0" font-size="14.1" font-weight="normal" fill="#141414" stroke="#fff" stroke-width="0.068" textLength="125.95" lengthAdjust="spacingAndGlyphs">H3K27ac_Hnisz (ext)</text>
<text x="395.75" y="446.4" font-size="14.1" font-weight="normal" fill="#141414" stroke="#fff" stroke-width="0.068" textLength="95.91" lengthAdjust="spacingAndGlyphs">H3K27ac_Hnisz</text>
<text x="367.06" y="463.4" font-size="14.1" font-weight="normal" fill="#141414" stroke="#fff" stroke-width="0.068" textLength="125.41" lengthAdjust="spacingAndGlyphs">H3K27ac (PGC) (ext)</text>
<text x="395.75" y="476.3" font-size="14.1" font-weight="normal" fill="#141414" stroke="#fff" stroke-width="0.068" textLength="96.63" lengthAdjust="spacingAndGlyphs">H3K27ac (PGC)</text>
<text x="435.07" y="488.1" font-size="14.1" font-weight="normal" fill="#141414" stroke="#fff" stroke-width="0.068" textLength="56.61" lengthAdjust="spacingAndGlyphs">FetalDHS</text>
<text x="424.05" y="501.0" font-size="14.1" font-weight="normal" fill="#141414" stroke="#fff" stroke-width="0.068" textLength="67.82" lengthAdjust="spacingAndGlyphs">DHS peaks</text>
<text x="435.48" y="513.7" font-size="14.1" font-weight="normal" fill="#141414" stroke="#fff" stroke-width="0.068" textLength="56.91" lengthAdjust="spacingAndGlyphs">DGF (ext)</text>
<text x="398.56" y="527.6" font-size="14.1" font-weight="normal" fill="#141414" stroke="#fff" stroke-width="0.068" textLength="94.23" lengthAdjust="spacingAndGlyphs">Conserved (ext)</text>
<line x1="498.2" y1="57.2" x2="500.4" y2="57.2" stroke="#666" stroke-width="0.9"/>
<line x1="498.2" y1="94.3" x2="500.4" y2="94.3" stroke="#666" stroke-width="0.9"/>
<line x1="498.2" y1="140.1" x2="500.4" y2="140.1" stroke="#666" stroke-width="0.9"/>
<line x1="498.2" y1="185.5" x2="500.4" y2="185.5" stroke="#666" stroke-width="0.9"/>
<line x1="498.2" y1="222.4" x2="500.4" y2="222.4" stroke="#666" stroke-width="0.9"/>
<line x1="498.2" y1="254.5" x2="500.4" y2="254.5" stroke="#666" stroke-width="0.9"/>
<line x1="498.2" y1="280.3" x2="500.4" y2="280.3" stroke="#666" stroke-width="0.9"/>
<line x1="498.2" y1="308.2" x2="500.4" y2="308.2" stroke="#666" stroke-width="0.9"/>
<line x1="498.2" y1="320.5" x2="500.4" y2="320.5" stroke="#666" stroke-width="0.9"/>
<line x1="498.2" y1="352.3" x2="500.4" y2="352.3" stroke="#666" stroke-width="0.9"/>
<line x1="498.2" y1="396.3" x2="500.4" y2="396.3" stroke="#666" stroke-width="0.9"/>
<line x1="498.2" y1="420.6" x2="500.4" y2="420.6" stroke="#666" stroke-width="0.9"/>
<line x1="498.2" y1="441.1" x2="500.4" y2="441.1" stroke="#666" stroke-width="0.9"/>
<line x1="498.2" y1="458.2" x2="500.4" y2="458.2" stroke="#666" stroke-width="0.9"/>
<line x1="498.2" y1="471.1" x2="500.4" y2="471.1" stroke="#666" stroke-width="0.9"/>
<line x1="498.2" y1="483.7" x2="500.4" y2="483.7" stroke="#666" stroke-width="0.9"/>
<line x1="498.2" y1="496.8" x2="500.4" y2="496.8" stroke="#666" stroke-width="0.9"/>
<line x1="498.2" y1="509.4" x2="500.4" y2="509.4" stroke="#666" stroke-width="0.9"/>
<line x1="498.2" y1="522.9" x2="500.4" y2="522.9" stroke="#666" stroke-width="0.9"/>
<line x1="526.6" y1="35.7" x2="532.6" y2="35.7" stroke="#2a2a2a" stroke-width="1.1"/>
<line x1="526.6" y1="32.90" x2="526.6" y2="38.50" stroke="#333" stroke-width="1.1"/>
<line x1="532.6" y1="32.90" x2="532.6" y2="38.50" stroke="#333" stroke-width="1.1"/>
<circle cx="529.60" cy="35.70" r="2.3" fill="#5E5FA0" stroke="#2e2e2e" stroke-width="0.8"/>
<line x1="523.4" y1="44.0" x2="529.4" y2="44.0" stroke="#2a2a2a" stroke-width="1.1"/>
<line x1="523.4" y1="41.20" x2="523.4" y2="46.80" stroke="#333" stroke-width="1.1"/>
<line x1="529.4" y1="41.20" x2="529.4" y2="46.80" stroke="#333" stroke-width="1.1"/>
<circle cx="526.40" cy="44.00" r="2.3" fill="#80C9B9" stroke="#2e2e2e" stroke-width="0.8"/>
<line x1="524.8" y1="52.0" x2="530.8" y2="52.0" stroke="#2a2a2a" stroke-width="1.1"/>
<line x1="524.8" y1="49.20" x2="524.8" y2="54.80" stroke="#333" stroke-width="1.1"/>
<line x1="530.8" y1="49.20" x2="530.8" y2="54.80" stroke="#333" stroke-width="1.1"/>
<circle cx="527.80" cy="52.00" r="2.3" fill="#6283C0" stroke="#2e2e2e" stroke-width="0.8"/>
<line x1="526.3" y1="60.0" x2="532.3" y2="60.0" stroke="#2a2a2a" stroke-width="1.1"/>
<line x1="526.3" y1="57.20" x2="526.3" y2="62.80" stroke="#333" stroke-width="1.1"/>
<line x1="532.3" y1="57.20" x2="532.3" y2="62.80" stroke="#333" stroke-width="1.1"/>
<circle cx="529.30" cy="60.00" r="2.3" fill="#CF6B70" stroke="#2e2e2e" stroke-width="0.8"/>
<line x1="528.3" y1="68.4" x2="534.7" y2="68.4" stroke="#2a2a2a" stroke-width="1.1"/>
<line x1="528.3" y1="65.60" x2="528.3" y2="71.20" stroke="#333" stroke-width="1.1"/>
<line x1="534.7" y1="65.60" x2="534.7" y2="71.20" stroke="#333" stroke-width="1.1"/>
<circle cx="531.50" cy="68.40" r="2.3" fill="#985A9E" stroke="#2e2e2e" stroke-width="0.8"/>
<line x1="525.3" y1="81.2" x2="531.3" y2="81.2" stroke="#2a2a2a" stroke-width="1.1"/>
<line x1="525.3" y1="78.40" x2="525.3" y2="84.00" stroke="#333" stroke-width="1.1"/>
<line x1="531.3" y1="78.40" x2="531.3" y2="84.00" stroke="#333" stroke-width="1.1"/>
<circle cx="528.30" cy="81.20" r="2.3" fill="#6283C0" stroke="#2e2e2e" stroke-width="0.8"/>
<line x1="525.6" y1="89.2" x2="531.6" y2="89.2" stroke="#2a2a2a" stroke-width="1.1"/>
<line x1="525.6" y1="86.40" x2="525.6" y2="92.00" stroke="#333" stroke-width="1.1"/>
<line x1="531.6" y1="86.40" x2="531.6" y2="92.00" stroke="#333" stroke-width="1.1"/>
<circle cx="528.60" cy="89.20" r="2.3" fill="#5E5FA0" stroke="#2e2e2e" stroke-width="0.8"/>
<line x1="529.0" y1="97.3" x2="535.4" y2="97.3" stroke="#2a2a2a" stroke-width="1.1"/>
<line x1="529.0" y1="94.50" x2="529.0" y2="100.10" stroke="#333" stroke-width="1.1"/>
<line x1="535.4" y1="94.50" x2="535.4" y2="100.10" stroke="#333" stroke-width="1.1"/>
<circle cx="532.20" cy="97.30" r="2.3" fill="#985A9E" stroke="#2e2e2e" stroke-width="0.8"/>
<line x1="525.3" y1="105.3" x2="531.3" y2="105.3" stroke="#2a2a2a" stroke-width="1.1"/>
<line x1="525.3" y1="102.50" x2="525.3" y2="108.10" stroke="#333" stroke-width="1.1"/>
<line x1="531.3" y1="102.50" x2="531.3" y2="108.10" stroke="#333" stroke-width="1.1"/>
<circle cx="528.30" cy="105.30" r="2.3" fill="#80C9B9" stroke="#2e2e2e" stroke-width="0.8"/>
<circle cx="508.10" cy="118.20" r="3.8" fill="#6283C0" stroke="#2e2e2e" stroke-width="0.8"/>
<circle cx="507.40" cy="126.50" r="3.8" fill="#CF6B70" stroke="#2e2e2e" stroke-width="0.8"/>
<circle cx="508.90" cy="134.50" r="3.8" fill="#5E5FA0" stroke="#2e2e2e" stroke-width="0.8"/>
<circle cx="509.60" cy="142.80" r="3.8" fill="#985A9E" stroke="#2e2e2e" stroke-width="0.8"/>
<circle cx="508.40" cy="150.90" r="3.8" fill="#80C9B9" stroke="#2e2e2e" stroke-width="0.8"/>
<circle cx="507.40" cy="158.90" r="3.8" fill="#E5A067" stroke="#2e2e2e" stroke-width="0.8"/>
<circle cx="519.80" cy="171.80" r="3.0" fill="#CF6B70" stroke="#2e2e2e" stroke-width="0.8"/>
<circle cx="519.40" cy="180.10" r="3.0" fill="#5E5FA0" stroke="#2e2e2e" stroke-width="0.8"/>
<circle cx="520.50" cy="188.10" r="3.0" fill="#E5A067" stroke="#2e2e2e" stroke-width="0.8"/>
<circle cx="519.80" cy="196.10" r="3.0" fill="#985A9E" stroke="#2e2e2e" stroke-width="0.8"/>
<line x1="534.5" y1="208.9" x2="543.4" y2="208.9" stroke="#2a2a2a" stroke-width="1.1"/>
<line x1="534.5" y1="206.10" x2="534.5" y2="211.70" stroke="#333" stroke-width="1.1"/>
<line x1="543.4" y1="206.10" x2="543.4" y2="211.70" stroke="#333" stroke-width="1.1"/>
<circle cx="539.00" cy="208.90" r="2.3" fill="#6283C0" stroke="#2e2e2e" stroke-width="0.8"/>
<line x1="531.3" y1="217.1" x2="541.3" y2="217.1" stroke="#2a2a2a" stroke-width="1.1"/>
<line x1="531.3" y1="214.30" x2="531.3" y2="219.90" stroke="#333" stroke-width="1.1"/>
<line x1="541.3" y1="214.30" x2="541.3" y2="219.90" stroke="#333" stroke-width="1.1"/>
<circle cx="536.20" cy="217.10" r="2.3" fill="#CF6B70" stroke="#2e2e2e" stroke-width="0.8"/>
<line x1="533.2" y1="225.2" x2="542.4" y2="225.2" stroke="#2a2a2a" stroke-width="1.1"/>
<line x1="533.2" y1="222.40" x2="533.2" y2="228.00" stroke="#333" stroke-width="1.1"/>
<line x1="542.4" y1="222.40" x2="542.4" y2="228.00" stroke="#333" stroke-width="1.1"/>
<circle cx="538.10" cy="225.20" r="2.3" fill="#5E5FA0" stroke="#2e2e2e" stroke-width="0.8"/>
<line x1="531.0" y1="233.6" x2="539.2" y2="233.6" stroke="#2a2a2a" stroke-width="1.1"/>
<line x1="531.0" y1="230.80" x2="531.0" y2="236.40" stroke="#333" stroke-width="1.1"/>
<line x1="539.2" y1="230.80" x2="539.2" y2="236.40" stroke="#333" stroke-width="1.1"/>
<circle cx="534.80" cy="233.60" r="2.3" fill="#80C9B9" stroke="#2e2e2e" stroke-width="0.8"/>
<line x1="555.3" y1="246.1" x2="583.6" y2="246.1" stroke="#2a2a2a" stroke-width="1.1"/>
<line x1="555.3" y1="243.30" x2="555.3" y2="248.90" stroke="#333" stroke-width="1.1"/>
<line x1="583.6" y1="243.30" x2="583.6" y2="248.90" stroke="#333" stroke-width="1.1"/>
<circle cx="569.60" cy="246.10" r="2.3" fill="#E5A067" stroke="#2e2e2e" stroke-width="0.8"/>
<line x1="550.2" y1="254.5" x2="571.5" y2="254.5" stroke="#2a2a2a" stroke-width="1.1"/>
<line x1="550.2" y1="251.70" x2="550.2" y2="257.30" stroke="#333" stroke-width="1.1"/>
<line x1="571.5" y1="251.70" x2="571.5" y2="257.30" stroke="#333" stroke-width="1.1"/>
<circle cx="560.50" cy="254.50" r="2.3" fill="#6283C0" stroke="#2e2e2e" stroke-width="0.8"/>
<line x1="527.4" y1="267.0" x2="536.5" y2="267.0" stroke="#2a2a2a" stroke-width="1.1"/>
<line x1="527.4" y1="264.20" x2="527.4" y2="269.80" stroke="#333" stroke-width="1.1"/>
<line x1="536.5" y1="264.20" x2="536.5" y2="269.80" stroke="#333" stroke-width="1.1"/>
<circle cx="532.00" cy="267.00" r="2.3" fill="#80C9B9" stroke="#2e2e2e" stroke-width="0.8"/>
<line x1="525.5" y1="275.3" x2="534.2" y2="275.3" stroke="#2a2a2a" stroke-width="1.1"/>
<line x1="525.5" y1="272.50" x2="525.5" y2="278.10" stroke="#333" stroke-width="1.1"/>
<line x1="534.2" y1="272.50" x2="534.2" y2="278.10" stroke="#333" stroke-width="1.1"/>
<circle cx="529.70" cy="275.30" r="2.3" fill="#5E5FA0" stroke="#2e2e2e" stroke-width="0.8"/>
<line x1="527.4" y1="283.1" x2="536.5" y2="283.1" stroke="#2a2a2a" stroke-width="1.1"/>
<line x1="527.4" y1="280.30" x2="527.4" y2="285.90" stroke="#333" stroke-width="1.1"/>
<line x1="536.5" y1="280.30" x2="536.5" y2="285.90" stroke="#333" stroke-width="1.1"/>
<circle cx="531.60" cy="283.10" r="2.3" fill="#E5A067" stroke="#2e2e2e" stroke-width="0.8"/>
<line x1="527.4" y1="291.7" x2="536.1" y2="291.7" stroke="#2a2a2a" stroke-width="1.1"/>
<line x1="527.4" y1="288.90" x2="527.4" y2="294.50" stroke="#333" stroke-width="1.1"/>
<line x1="536.1" y1="288.90" x2="536.1" y2="294.50" stroke="#333" stroke-width="1.1"/>
<circle cx="531.40" cy="291.70" r="2.3" fill="#6283C0" stroke="#2e2e2e" stroke-width="0.8"/>
<line x1="548.5" y1="304.4" x2="570.0" y2="304.4" stroke="#2a2a2a" stroke-width="1.1"/>
<line x1="548.5" y1="301.60" x2="548.5" y2="307.20" stroke="#333" stroke-width="1.1"/>
<line x1="570.0" y1="301.60" x2="570.0" y2="307.20" stroke="#333" stroke-width="1.1"/>
<circle cx="559.10" cy="304.40" r="2.3" fill="#6283C0" stroke="#2e2e2e" stroke-width="0.8"/>
<line x1="559.1" y1="317.3" x2="584.8" y2="317.3" stroke="#2a2a2a" stroke-width="1.1"/>
<line x1="559.1" y1="314.50" x2="559.1" y2="320.10" stroke="#333" stroke-width="1.1"/>
<line x1="584.8" y1="314.50" x2="584.8" y2="320.10" stroke="#333" stroke-width="1.1"/>
<circle cx="571.90" cy="317.30" r="2.3" fill="#E5A067" stroke="#2e2e2e" stroke-width="0.8"/>
<circle cx="524.40" cy="330.10" r="3.8" fill="#985A9E" stroke="#2e2e2e" stroke-width="0.8"/>
<circle cx="520.60" cy="338.40" r="3.8" fill="#E5A067" stroke="#2e2e2e" stroke-width="0.8"/>
<circle cx="519.90" cy="346.20" r="3.8" fill="#6283C0" stroke="#2e2e2e" stroke-width="0.8"/>
<circle cx="521.90" cy="354.30" r="3.8" fill="#5E5FA0" stroke="#2e2e2e" stroke-width="0.8"/>
<circle cx="521.60" cy="362.70" r="3.8" fill="#80C9B9" stroke="#2e2e2e" stroke-width="0.8"/>
<circle cx="521.60" cy="370.70" r="3.8" fill="#CF6B70" stroke="#2e2e2e" stroke-width="0.8"/>
<line x1="529.0" y1="383.6" x2="535.0" y2="383.6" stroke="#2a2a2a" stroke-width="1.1"/>
<line x1="529.0" y1="380.80" x2="529.0" y2="386.40" stroke="#333" stroke-width="1.1"/>
<line x1="535.0" y1="380.80" x2="535.0" y2="386.40" stroke="#333" stroke-width="1.1"/>
<circle cx="532.00" cy="383.60" r="3.8" fill="#6283C0" stroke="#2e2e2e" stroke-width="0.8"/>
<line x1="531.0" y1="391.7" x2="538.0" y2="391.7" stroke="#2a2a2a" stroke-width="1.1"/>
<line x1="531.0" y1="388.90" x2="531.0" y2="394.50" stroke="#333" stroke-width="1.1"/>
<line x1="538.0" y1="388.90" x2="538.0" y2="394.50" stroke="#333" stroke-width="1.1"/>
<circle cx="534.50" cy="391.70" r="3.8" fill="#CF6B70" stroke="#2e2e2e" stroke-width="0.8"/>
<line x1="530.0" y1="399.7" x2="536.0" y2="399.7" stroke="#2a2a2a" stroke-width="1.1"/>
<line x1="530.0" y1="396.90" x2="530.0" y2="402.50" stroke="#333" stroke-width="1.1"/>
<line x1="536.0" y1="396.90" x2="536.0" y2="402.50" stroke="#333" stroke-width="1.1"/>
<circle cx="533.00" cy="399.70" r="3.8" fill="#80C9B9" stroke="#2e2e2e" stroke-width="0.8"/>
<circle cx="522.90" cy="412.60" r="3.8" fill="#6283C0" stroke="#2e2e2e" stroke-width="0.8"/>
<circle cx="524.80" cy="421.00" r="3.8" fill="#80C9B9" stroke="#2e2e2e" stroke-width="0.8"/>
<circle cx="523.80" cy="433.50" r="3.0" fill="#6283C0" stroke="#2e2e2e" stroke-width="0.8"/>
<circle cx="525.70" cy="441.40" r="3.0" fill="#80C9B9" stroke="#2e2e2e" stroke-width="0.8"/>
<line x1="525.0" y1="454.7" x2="530.4" y2="454.7" stroke="#2a2a2a" stroke-width="1.1"/>
<line x1="525.0" y1="451.90" x2="525.0" y2="457.50" stroke="#333" stroke-width="1.1"/>
<line x1="530.4" y1="451.90" x2="530.4" y2="457.50" stroke="#333" stroke-width="1.1"/>
<circle cx="527.70" cy="454.70" r="3.0" fill="#6283C0" stroke="#2e2e2e" stroke-width="0.8"/>
<line x1="530.3" y1="467.6" x2="541.7" y2="467.6" stroke="#2a2a2a" stroke-width="1.1"/>
<line x1="530.3" y1="464.80" x2="530.3" y2="470.40" stroke="#333" stroke-width="1.1"/>
<line x1="541.7" y1="464.80" x2="541.7" y2="470.40" stroke="#333" stroke-width="1.1"/>
<circle cx="535.40" cy="467.60" r="2.3" fill="#5E5FA0" stroke="#2e2e2e" stroke-width="0.8"/>
<line x1="590.3" y1="480.4" x2="637.5" y2="480.4" stroke="#2a2a2a" stroke-width="1.1"/>
<line x1="590.3" y1="477.60" x2="590.3" y2="483.20" stroke="#333" stroke-width="1.1"/>
<line x1="637.5" y1="477.60" x2="637.5" y2="483.20" stroke="#333" stroke-width="1.1"/>
<circle cx="614.20" cy="480.40" r="2.3" fill="#5E5FA0" stroke="#2e2e2e" stroke-width="0.8"/>
<line x1="587.5" y1="493.3" x2="638.2" y2="493.3" stroke="#2a2a2a" stroke-width="1.1"/>
<line x1="587.5" y1="490.50" x2="587.5" y2="496.10" stroke="#333" stroke-width="1.1"/>
<line x1="638.2" y1="490.50" x2="638.2" y2="496.10" stroke="#333" stroke-width="1.1"/>
<circle cx="612.50" cy="493.30" r="2.3" fill="#CF6B70" stroke="#2e2e2e" stroke-width="0.8"/>
<circle cx="525.80" cy="506.40" r="3.8" fill="#CF6B70" stroke="#2e2e2e" stroke-width="0.8"/>
<line x1="525.6" y1="519.4" x2="531.2" y2="519.4" stroke="#2a2a2a" stroke-width="1.1"/>
<line x1="525.6" y1="516.60" x2="525.6" y2="522.20" stroke="#333" stroke-width="1.1"/>
<line x1="531.2" y1="516.60" x2="531.2" y2="522.20" stroke="#333" stroke-width="1.1"/>
<circle cx="528.40" cy="519.40" r="3.0" fill="#E5A067" stroke="#2e2e2e" stroke-width="0.8"/>
<circle cx="524.20" cy="527.60" r="3.0" fill="#6283C0" stroke="#2e2e2e" stroke-width="0.8"/>
<text x="271.73" y="22.6" font-size="17.8" font-weight="normal" fill="#000" stroke="#000" stroke-width="0.65" stroke-linejoin="round" textLength="185.32" lengthAdjust="spacingAndGlyphs">Partitioned Heritability</text>
<line x1="90.1" y1="657.5" x2="251.4" y2="657.5" stroke="#d4d4d4" stroke-width="1.0" stroke-dasharray="3.0 1.8"/>
<line x1="90.1" y1="670.5" x2="251.4" y2="670.5" stroke="#d4d4d4" stroke-width="1.0" stroke-dasharray="3.0 1.8"/>
<line x1="90.1" y1="721.6" x2="251.4" y2="721.6" stroke="#d4d4d4" stroke-width="1.0" stroke-dasharray="3.0 1.8"/>
<line x1="90.1" y1="766.2" x2="251.4" y2="766.2" stroke="#d4d4d4" stroke-width="1.0" stroke-dasharray="3.0 1.8"/>
<line x1="90.1" y1="810.9" x2="251.4" y2="810.9" stroke="#d4d4d4" stroke-width="1.0" stroke-dasharray="3.0 1.8"/>
<line x1="90.1" y1="823.4" x2="251.4" y2="823.4" stroke="#d4d4d4" stroke-width="1.0" stroke-dasharray="3.0 1.8"/>
<line x1="90.1" y1="938.2" x2="251.4" y2="938.2" stroke="#d4d4d4" stroke-width="1.0" stroke-dasharray="3.0 1.8"/>
<line x1="90.1" y1="989.6" x2="251.4" y2="989.6" stroke="#d4d4d4" stroke-width="1.0" stroke-dasharray="3.0 1.8"/>
<line x1="90.1" y1="1028.0" x2="251.4" y2="1028.0" stroke="#d4d4d4" stroke-width="1.0" stroke-dasharray="3.0 1.8"/>
<line x1="90.1" y1="1072.4" x2="251.4" y2="1072.4" stroke="#d4d4d4" stroke-width="1.0" stroke-dasharray="3.0 1.8"/>
<line x1="89.1" y1="900.2" x2="252.4" y2="900.2" stroke="#333" stroke-width="1.1" stroke-dasharray="3.2 1.9"/>
<rect x="165.5" y="633.8" width="79.90" height="79.50" rx="2.5" ry="2.5" fill="#fff" fill-opacity="0.92" stroke="#d6d6d6" stroke-width="1"/>
<text x="171.48" y="647.9" font-size="14.4" font-weight="normal" fill="#141414" stroke="#fff" stroke-width="0.079" textLength="67.13" lengthAdjust="spacingAndGlyphs">Enrichment</text>
<circle cx="183.40" cy="663.00" r="3.1" fill="#7d7d7d" stroke="#3a3a3a" stroke-width="0.8"/>
<text x="197.70" y="667.6" font-size="14.4" font-weight="normal" fill="#141414" stroke="#fff" stroke-width="0.079" textLength="44.10" lengthAdjust="spacingAndGlyphs">0.0-2.0</text>
<circle cx="183.40" cy="682.40" r="4.7" fill="#7d7d7d" stroke="#3a3a3a" stroke-width="0.8"/>
<text x="196.69" y="687.0" font-size="14.4" font-weight="normal" fill="#141414" stroke="#fff" stroke-width="0.079" textLength="45.13" lengthAdjust="spacingAndGlyphs">2.0-4.0</text>
<circle cx="183.40" cy="702.10" r="6.4" fill="#7d7d7d" stroke="#3a3a3a" stroke-width="0.8"/>
<text x="197.70" y="706.8" font-size="14.4" font-weight="normal" fill="#141414" stroke="#fff" stroke-width="0.079" textLength="26.90" lengthAdjust="spacingAndGlyphs">4.0+</text>
<line x1="89.1" y1="619.8" x2="252.4" y2="619.8" stroke="#555" stroke-width="1.2"/>
<line x1="89.1" y1="1124.8" x2="252.4" y2="1124.8" stroke="#555" stroke-width="1.2"/>
<line x1="89.1" y1="619.8" x2="89.1" y2="1124.8" stroke="#555" stroke-width="1.2"/>
<line x1="252.4" y1="619.8" x2="252.4" y2="1124.8" stroke="#555" stroke-width="1.2"/>
<line x1="96.5" y1="1124.8" x2="96.5" y2="1127.0" stroke="#666" stroke-width="0.9"/>
<text x="85.90" y="1139.8" font-size="15.2" font-weight="normal" fill="#141414" stroke="#fff" stroke-width="0.107" >0.0</text>
<line x1="134.9" y1="1124.8" x2="134.9" y2="1127.0" stroke="#666" stroke-width="0.9"/>
<text x="123.80" y="1139.8" font-size="15.2" font-weight="normal" fill="#141414" stroke="#fff" stroke-width="0.107" >0.2</text>
<line x1="173.3" y1="1124.8" x2="173.3" y2="1127.0" stroke="#666" stroke-width="0.9"/>
<text x="162.50" y="1139.8" font-size="15.2" font-weight="normal" fill="#141414" stroke="#fff" stroke-width="0.107" >0.4</text>
<line x1="211.7" y1="1124.8" x2="211.7" y2="1127.0" stroke="#666" stroke-width="0.9"/>
<text x="201.30" y="1139.8" font-size="15.2" font-weight="normal" fill="#141414" stroke="#fff" stroke-width="0.107" >0.6</text>
<line x1="250.10000000000002" y1="1124.8" x2="250.10000000000002" y2="1127.0" stroke="#666" stroke-width="0.9"/>
<text x="239.40" y="1139.8" font-size="15.2" font-weight="normal" fill="#141414" stroke="#fff" stroke-width="0.107" >0.8</text>
<text x="134.78" y="1155.9" font-size="16.6" font-weight="normal" fill="#141414" stroke="#fff" stroke-width="0.156" textLength="70.54" lengthAdjust="spacingAndGlyphs">Proportion</text>
<text x="-0.95" y="0" font-size="16.0" font-weight="normal" fill="#141414" stroke="#fff" stroke-width="0.135" textLength="136.33" lengthAdjust="spacingAndGlyphs" transform="translate(19.6,939.9) rotate(-90)">Functional Category</text>
<text x="0.00" y="0" font-size="18.4" font-weight="normal" fill="#141414" stroke="#fff" stroke-width="0.219" textLength="35.57" lengthAdjust="spacingAndGlyphs" transform="translate(259.0,751.4) rotate(90)">Area</text>
<text x="-0.95" y="0" font-size="18.4" font-weight="normal" fill="#141414" stroke="#fff" stroke-width="0.219" textLength="126.80" lengthAdjust="spacingAndGlyphs" transform="translate(259.0,948.5) rotate(90)">Mean Thickness</text>
<text x="78.78" y="615.4" font-size="17.0" font-weight="normal" fill="#000" stroke="#000" stroke-width="0.65" stroke-linejoin="round" textLength="183.20" lengthAdjust="spacingAndGlyphs">Functional Annotation</text>
<text x="39.91" y="646.7" font-size="14.8" font-weight="normal" fill="#141414" stroke="#fff" stroke-width="0.093" textLength="45.06" lengthAdjust="spacingAndGlyphs">3' UTR</text>
<text x="39.91" y="668.9" font-size="14.8" font-weight="normal" fill="#141414" stroke="#fff" stroke-width="0.093" textLength="45.06" lengthAdjust="spacingAndGlyphs">5' UTR</text>
<text x="43.53" y="701.0" font-size="14.8" font-weight="normal" fill="#141414" stroke="#fff" stroke-width="0.093" textLength="41.63" lengthAdjust="spacingAndGlyphs">exonic</text>
<text x="23.55" y="748.8" font-size="14.8" font-weight="normal" fill="#141414" stroke="#fff" stroke-width="0.093" textLength="61.01" lengthAdjust="spacingAndGlyphs">intergenic</text>
<text x="38.73" y="793.8" font-size="14.8" font-weight="normal" fill="#141414" stroke="#fff" stroke-width="0.093" textLength="46.35" lengthAdjust="spacingAndGlyphs">intronic</text>
<text x="39.95" y="815.6" font-size="14.8" font-weight="normal" fill="#141414" stroke="#fff" stroke-width="0.093" textLength="44.33" lengthAdjust="spacingAndGlyphs">ncRNA</text>
<text x="36.78" y="829.7" font-size="14.8" font-weight="normal" fill="#141414" stroke="#fff" stroke-width="0.093" textLength="48.20" lengthAdjust="spacingAndGlyphs">(exonic)</text>
<text x="39.95" y="860.4" font-size="14.8" font-weight="normal" fill="#141414" stroke="#fff" stroke-width="0.093" textLength="44.33" lengthAdjust="spacingAndGlyphs">ncRNA</text>
<text x="31.88" y="874.2" font-size="14.8" font-weight="normal" fill="#141414" stroke="#fff" stroke-width="0.093" textLength="53.04" lengthAdjust="spacingAndGlyphs">(intronic)</text>
<text x="39.91" y="924.5" font-size="14.8" font-weight="normal" fill="#141414" stroke="#fff" stroke-width="0.093" textLength="45.06" lengthAdjust="spacingAndGlyphs">3' UTR</text>
<text x="43.53" y="969.2" font-size="14.8" font-weight="normal" fill="#141414" stroke="#fff" stroke-width="0.093" textLength="41.63" lengthAdjust="spacingAndGlyphs">exonic</text>
<text x="23.55" y="1013.8" font-size="14.8" font-weight="normal" fill="#141414" stroke="#fff" stroke-width="0.093" textLength="61.01" lengthAdjust="spacingAndGlyphs">intergenic</text>
<text x="38.73" y="1055.8" font-size="14.8" font-weight="normal" fill="#141414" stroke="#fff" stroke-width="0.093" textLength="46.35" lengthAdjust="spacingAndGlyphs">intronic</text>
<text x="39.95" y="1094.0" font-size="14.8" font-weight="normal" fill="#141414" stroke="#fff" stroke-width="0.093" textLength="44.33" lengthAdjust="spacingAndGlyphs">ncRNA</text>
<text x="31.88" y="1108.0" font-size="14.8" font-weight="normal" fill="#141414" stroke="#fff" stroke-width="0.093" textLength="53.04" lengthAdjust="spacingAndGlyphs">(intronic)</text>
<line x1="86.89999999999999" y1="641.7" x2="89.1" y2="641.7" stroke="#666" stroke-width="0.9"/>
<line x1="86.89999999999999" y1="663.8" x2="89.1" y2="663.8" stroke="#666" stroke-width="0.9"/>
<line x1="86.89999999999999" y1="695.9" x2="89.1" y2="695.9" stroke="#666" stroke-width="0.9"/>
<line x1="86.89999999999999" y1="743.6" x2="89.1" y2="743.6" stroke="#666" stroke-width="0.9"/>
<line x1="86.89999999999999" y1="787.9" x2="89.1" y2="787.9" stroke="#666" stroke-width="0.9"/>
<line x1="86.89999999999999" y1="817.3" x2="89.1" y2="817.3" stroke="#666" stroke-width="0.9"/>
<line x1="86.89999999999999" y1="861.7" x2="89.1" y2="861.7" stroke="#666" stroke-width="0.9"/>
<line x1="86.89999999999999" y1="919.5" x2="89.1" y2="919.5" stroke="#666" stroke-width="0.9"/>
<line x1="86.89999999999999" y1="964.3" x2="89.1" y2="964.3" stroke="#666" stroke-width="0.9"/>
<line x1="86.89999999999999" y1="1008.9" x2="89.1" y2="1008.9" stroke="#666" stroke-width="0.9"/>
<line x1="86.89999999999999" y1="1050.5" x2="89.1" y2="1050.5" stroke="#666" stroke-width="0.9"/>
<line x1="86.89999999999999" y1="1095.7" x2="89.1" y2="1095.7" stroke="#666" stroke-width="0.9"/>
<circle cx="101.70" cy="625.70" r="4.7" fill="#CF6B70" stroke="#2e2e2e" stroke-width="0.8"/>
<circle cx="99.60" cy="638.50" r="2.8" fill="#6283C0" stroke="#2e2e2e" stroke-width="0.8"/>
<circle cx="99.90" cy="651.20" r="4.7" fill="#985A9E" stroke="#2e2e2e" stroke-width="0.8"/>
<circle cx="97.70" cy="663.90" r="4.7" fill="#5E5FA0" stroke="#2e2e2e" stroke-width="0.8"/>
<circle cx="99.90" cy="676.80" r="2.8" fill="#5E5FA0" stroke="#2e2e2e" stroke-width="0.8"/>
<circle cx="104.00" cy="689.70" r="4.7" fill="#CF6B70" stroke="#2e2e2e" stroke-width="0.8"/>
<circle cx="103.50" cy="702.30" r="4.7" fill="#985A9E" stroke="#2e2e2e" stroke-width="0.8"/>
<circle cx="100.30" cy="715.00" r="2.8" fill="#6283C0" stroke="#2e2e2e" stroke-width="0.8"/>
<circle cx="129.80" cy="727.90" r="2.8" fill="#E5A067" stroke="#2e2e2e" stroke-width="0.8"/>
<circle cx="121.20" cy="734.30" r="2.8" fill="#985A9E" stroke="#2e2e2e" stroke-width="0.8"/>
<circle cx="136.80" cy="740.60" r="2.8" fill="#80C9B9" stroke="#2e2e2e" stroke-width="0.8"/>
<circle cx="141.90" cy="747.20" r="2.8" fill="#CF6B70" stroke="#2e2e2e" stroke-width="0.8"/>
<circle cx="134.60" cy="753.40" r="2.8" fill="#6283C0" stroke="#2e2e2e" stroke-width="0.8"/>
<circle cx="120.80" cy="759.90" r="2.8" fill="#5E5FA0" stroke="#2e2e2e" stroke-width="0.8"/>
<circle cx="217.70" cy="772.70" r="2.8" fill="#CF6B70" stroke="#2e2e2e" stroke-width="0.8"/>
<circle cx="234.00" cy="779.00" r="2.8" fill="#985A9E" stroke="#2e2e2e" stroke-width="0.8"/>
<circle cx="196.10" cy="785.50" r="2.8" fill="#80C9B9" stroke="#2e2e2e" stroke-width="0.8"/>
<circle cx="232.60" cy="791.70" r="2.8" fill="#E5A067" stroke="#2e2e2e" stroke-width="0.8"/>
<circle cx="220.90" cy="798.20" r="2.8" fill="#6283C0" stroke="#2e2e2e" stroke-width="0.8"/>
<circle cx="202.30" cy="804.50" r="2.8" fill="#5E5FA0" stroke="#2e2e2e" stroke-width="0.8"/>
<circle cx="99.30" cy="817.20" r="2.8" fill="#5E5FA0" stroke="#2e2e2e" stroke-width="0.8"/>
<circle cx="113.90" cy="829.90" r="2.8" fill="#6283C0" stroke="#2e2e2e" stroke-width="0.8"/>
<circle cx="139.50" cy="842.80" r="2.8" fill="#80C9B9" stroke="#2e2e2e" stroke-width="0.8"/>
<circle cx="105.00" cy="855.50" r="2.8" fill="#CF6B70" stroke="#2e2e2e" stroke-width="0.8"/>
<circle cx="111.00" cy="868.20" r="2.8" fill="#985A9E" stroke="#2e2e2e" stroke-width="0.8"/>
<circle cx="142.40" cy="881.00" r="4.7" fill="#5E5FA0" stroke="#2e2e2e" stroke-width="0.8"/>
<circle cx="108.80" cy="893.90" r="2.8" fill="#E5A067" stroke="#2e2e2e" stroke-width="0.8"/>
<circle cx="103.00" cy="906.50" r="4.7" fill="#80C9B9" stroke="#2e2e2e" stroke-width="0.8"/>
<circle cx="101.10" cy="919.20" r="4.7" fill="#6283C0" stroke="#2e2e2e" stroke-width="0.8"/>
<circle cx="101.40" cy="932.00" r="4.7" fill="#CF6B70" stroke="#2e2e2e" stroke-width="0.8"/>
<circle cx="101.80" cy="945.00" r="4.7" fill="#985A9E" stroke="#2e2e2e" stroke-width="0.8"/>
<circle cx="114.20" cy="957.60" r="6.1" fill="#80C9B9" stroke="#2e2e2e" stroke-width="0.8"/>
<circle cx="107.90" cy="970.30" r="6.1" fill="#CF6B70" stroke="#2e2e2e" stroke-width="0.8"/>
<circle cx="104.40" cy="983.10" r="6.1" fill="#6283C0" stroke="#2e2e2e" stroke-width="0.8"/>
<circle cx="112.40" cy="996.10" r="2.8" fill="#CF6B70" stroke="#2e2e2e" stroke-width="0.8"/>
<circle cx="132.90" cy="1002.30" r="2.8" fill="#985A9E" stroke="#2e2e2e" stroke-width="0.8"/>
<circle cx="118.90" cy="1008.80" r="2.8" fill="#80C9B9" stroke="#2e2e2e" stroke-width="0.8"/>
<circle cx="128.20" cy="1015.00" r="2.8" fill="#6283C0" stroke="#2e2e2e" stroke-width="0.8"/>
<circle cx="123.80" cy="1021.60" r="2.8" fill="#E5A067" stroke="#2e2e2e" stroke-width="0.8"/>
<circle cx="243.50" cy="1034.40" r="4.7" fill="#CF6B70" stroke="#2e2e2e" stroke-width="0.8"/>
<circle cx="220.10" cy="1040.70" r="2.8" fill="#6283C0" stroke="#2e2e2e" stroke-width="0.8"/>
<circle cx="214.60" cy="1046.90" r="2.8" fill="#985A9E" stroke="#2e2e2e" stroke-width="0.8"/>
<circle cx="244.70" cy="1053.50" r="4.7" fill="#E5A067" stroke="#2e2e2e" stroke-width="0.8"/>
<circle cx="223.50" cy="1059.90" r="2.8" fill="#5E5FA0" stroke="#2e2e2e" stroke-width="0.8"/>
<circle cx="231.80" cy="1066.20" r="2.8" fill="#80C9B9" stroke="#2e2e2e" stroke-width="0.8"/>
<circle cx="105.30" cy="1079.20" r="2.8" fill="#CF6B70" stroke="#2e2e2e" stroke-width="0.8"/>
<circle cx="102.90" cy="1092.00" r="2.8" fill="#E5A067" stroke="#2e2e2e" stroke-width="0.8"/>
<circle cx="96.80" cy="1104.40" r="2.8" fill="#5E5FA0" stroke="#2e2e2e" stroke-width="0.8"/>
<circle cx="103.80" cy="1117.30" r="2.8" fill="#80C9B9" stroke="#2e2e2e" stroke-width="0.8"/>
<line x1="568.5" y1="621.4" x2="568.5" y2="1122.1" stroke="#d6d6d6" stroke-width="1.0" stroke-dasharray="1.3 1.25"/>
<line x1="604.5" y1="621.4" x2="604.5" y2="1122.1" stroke="#d6d6d6" stroke-width="1.0" stroke-dasharray="1.3 1.25"/>
<line x1="640.5" y1="621.4" x2="640.5" y2="1122.1" stroke="#d6d6d6" stroke-width="1.0" stroke-dasharray="1.3 1.25"/>
<line x1="534.2" y1="643.3" x2="669.6" y2="643.3" stroke="#d6d6d6" stroke-width="1.0" stroke-dasharray="1.3 1.25"/>
<line x1="534.2" y1="684.3" x2="669.6" y2="684.3" stroke="#d6d6d6" stroke-width="1.0" stroke-dasharray="1.3 1.25"/>
<line x1="534.2" y1="726.2" x2="669.6" y2="726.2" stroke="#d6d6d6" stroke-width="1.0" stroke-dasharray="1.3 1.25"/>
<line x1="534.2" y1="767.7" x2="669.6" y2="767.7" stroke="#d6d6d6" stroke-width="1.0" stroke-dasharray="1.3 1.25"/>
<line x1="534.2" y1="809.3" x2="669.6" y2="809.3" stroke="#d6d6d6" stroke-width="1.0" stroke-dasharray="1.3 1.25"/>
<line x1="534.2" y1="850.8" x2="669.6" y2="850.8" stroke="#d6d6d6" stroke-width="1.0" stroke-dasharray="1.3 1.25"/>
<line x1="534.2" y1="892.3" x2="669.6" y2="892.3" stroke="#d6d6d6" stroke-width="1.0" stroke-dasharray="1.3 1.25"/>
<line x1="534.2" y1="933.9" x2="669.6" y2="933.9" stroke="#d6d6d6" stroke-width="1.0" stroke-dasharray="1.3 1.25"/>
<line x1="534.2" y1="975.7" x2="669.6" y2="975.7" stroke="#d6d6d6" stroke-width="1.0" stroke-dasharray="1.3 1.25"/>
<line x1="534.2" y1="1017.3" x2="669.6" y2="1017.3" stroke="#d6d6d6" stroke-width="1.0" stroke-dasharray="1.3 1.25"/>
<line x1="534.2" y1="1058.9" x2="669.6" y2="1058.9" stroke="#d6d6d6" stroke-width="1.0" stroke-dasharray="1.3 1.25"/>
<line x1="534.2" y1="1100.3" x2="669.6" y2="1100.3" stroke="#d6d6d6" stroke-width="1.0" stroke-dasharray="1.3 1.25"/>
<circle cx="554.30" cy="643.30" r="8.5" fill="#E5A067" stroke="#2e2e2e" stroke-width="0.8"/>
<circle cx="556.90" cy="684.30" r="2.8" fill="#E5A067" stroke="#2e2e2e" stroke-width="0.8"/>
<circle cx="558.10" cy="726.20" r="5.5" fill="#80C9B9" stroke="#2e2e2e" stroke-width="0.8"/>
<circle cx="558.10" cy="767.70" r="2.8" fill="#CF6B70" stroke="#2e2e2e" stroke-width="0.8"/>
<circle cx="558.10" cy="809.30" r="2.8" fill="#E5A067" stroke="#2e2e2e" stroke-width="0.8"/>
<circle cx="562.70" cy="850.80" r="8.8" fill="#6283C0" stroke="#2e2e2e" stroke-width="0.8"/>
<circle cx="563.70" cy="892.30" r="2.8" fill="#985A9E" stroke="#2e2e2e" stroke-width="0.8"/>
<circle cx="577.60" cy="933.90" r="8.8" fill="#6283C0" stroke="#2e2e2e" stroke-width="0.8"/>
<circle cx="588.50" cy="975.70" r="2.8" fill="#6283C0" stroke="#2e2e2e" stroke-width="0.8"/>
<circle cx="596.90" cy="1017.30" r="5.5" fill="#E5A067" stroke="#2e2e2e" stroke-width="0.8"/>
<circle cx="602.90" cy="1058.90" r="2.8" fill="#6283C0" stroke="#2e2e2e" stroke-width="0.8"/>
<circle cx="652.70" cy="1100.30" r="2.8" fill="#6283C0" stroke="#2e2e2e" stroke-width="0.8"/>
<rect x="584.7" y="627.3" width="73.40" height="127.20" rx="2.5" ry="2.5" fill="#fff" fill-opacity="0.92" stroke="#d6d6d6" stroke-width="1"/>
<text x="588.07" y="641.9" font-size="14.8" font-weight="normal" fill="#141414" stroke="#fff" stroke-width="0.093" textLength="48.79" lengthAdjust="spacingAndGlyphs">Number</text>
<text x="588.05" y="655.8" font-size="14.8" font-weight="normal" fill="#141414" stroke="#fff" stroke-width="0.093" textLength="53.68" lengthAdjust="spacingAndGlyphs">of genes</text>
<circle cx="602.90" cy="674.70" r="3.2" fill="#7d7d7d" stroke="#3a3a3a" stroke-width="0.8"/>
<text x="617.30" y="679.9" font-size="14.8" font-weight="normal" fill="#141414" stroke="#fff" stroke-width="0.093" textLength="28.71" lengthAdjust="spacingAndGlyphs">0-20</text>
<circle cx="602.90" cy="697.50" r="5.8" fill="#7d7d7d" stroke="#3a3a3a" stroke-width="0.8"/>
<text x="616.29" y="702.4" font-size="14.8" font-weight="normal" fill="#141414" stroke="#fff" stroke-width="0.093" textLength="38.07" lengthAdjust="spacingAndGlyphs">20-40</text>
<circle cx="602.90" cy="720.40" r="7.3" fill="#7d7d7d" stroke="#3a3a3a" stroke-width="0.8"/>
<text x="617.30" y="725.5" font-size="14.8" font-weight="normal" fill="#141414" stroke="#fff" stroke-width="0.093" textLength="37.04" lengthAdjust="spacingAndGlyphs">40-60</text>
<circle cx="602.90" cy="743.20" r="9.0" fill="#7d7d7d" stroke="#3a3a3a" stroke-width="0.8"/>
<text x="616.27" y="748.4" font-size="14.8" font-weight="normal" fill="#141414" stroke="#fff" stroke-width="0.093" textLength="25.87" lengthAdjust="spacingAndGlyphs">60+</text>
<line x1="533.2" y1="620.4" x2="670.6" y2="620.4" stroke="#555" stroke-width="1.2"/>
<line x1="533.2" y1="1123.1" x2="670.6" y2="1123.1" stroke="#555" stroke-width="1.2"/>
<line x1="533.2" y1="620.4" x2="533.2" y2="1123.1" stroke="#555" stroke-width="1.2"/>
<line x1="670.6" y1="620.4" x2="670.6" y2="1123.1" stroke="#555" stroke-width="1.2"/>
<line x1="533.2" y1="1123.1" x2="533.2" y2="1125.3" stroke="#666" stroke-width="0.9"/>
<text x="521.80" y="1138.4" font-size="15.2" font-weight="normal" fill="#141414" stroke="#fff" stroke-width="0.107" >5.0</text>
<line x1="568.95" y1="1123.1" x2="568.95" y2="1125.3" stroke="#666" stroke-width="0.9"/>
<text x="557.70" y="1138.4" font-size="15.2" font-weight="normal" fill="#141414" stroke="#fff" stroke-width="0.107" >6.0</text>
<line x1="604.7" y1="1123.1" x2="604.7" y2="1125.3" stroke="#666" stroke-width="0.9"/>
<text x="593.30" y="1138.4" font-size="15.2" font-weight="normal" fill="#141414" stroke="#fff" stroke-width="0.107" >7.0</text>
<line x1="640.45" y1="1123.1" x2="640.45" y2="1125.3" stroke="#666" stroke-width="0.9"/>
<text x="629.20" y="1138.4" font-size="15.2" font-weight="normal" fill="#141414" stroke="#fff" stroke-width="0.107" >8.0</text>
<text x="550.39" y="1155.2" font-size="16.6" font-weight="normal" fill="#141414" stroke="#fff" stroke-width="0.156" textLength="103.63" lengthAdjust="spacingAndGlyphs">-log10(P-value)</text>
<text x="-0.91" y="0" font-size="17.0" font-weight="normal" fill="#141414" stroke="#fff" stroke-width="0.170" textLength="73.01" lengthAdjust="spacingAndGlyphs" transform="translate(303.5,908.0) rotate(-90)">Gene Sets</text>
<text x="522.52" y="615.5" font-size="17.6" font-weight="normal" fill="#000" stroke="#000" stroke-width="0.65" stroke-linejoin="round" textLength="158.64" lengthAdjust="spacingAndGlyphs">Gene-set analyses</text>
<text x="353.86" y="639.8" font-size="15.8" font-weight="normal" fill="#141414" stroke="#fff" stroke-width="0.128" textLength="166.58" lengthAdjust="spacingAndGlyphs">GOBP: Cellular response</text>
<text x="462.90" y="654.1" font-size="15.8" font-weight="normal" fill="#141414" stroke="#fff" stroke-width="0.128" textLength="57.88" lengthAdjust="spacingAndGlyphs">to stress</text>
<text x="329.75" y="681.5" font-size="15.8" font-weight="normal" fill="#141414" stroke="#fff" stroke-width="0.128" textLength="191.25" lengthAdjust="spacingAndGlyphs">Reactome: ERBB2 regulates</text>
<text x="447.05" y="696.2" font-size="15.8" font-weight="normal" fill="#141414" stroke="#fff" stroke-width="0.128" textLength="73.29" lengthAdjust="spacingAndGlyphs">cell motility</text>
<text x="341.95" y="730.2" font-size="15.8" font-weight="normal" fill="#141414" stroke="#fff" stroke-width="0.128" textLength="178.17" lengthAdjust="spacingAndGlyphs">Biocarta: Carm er pathway</text>
<text x="307.86" y="772.1" font-size="15.8" font-weight="normal" fill="#141414" stroke="#fff" stroke-width="0.128" textLength="213.44" lengthAdjust="spacingAndGlyphs">GOBP: Eosinophil differentiation</text>
<text x="338.44" y="806.2" font-size="15.8" font-weight="normal" fill="#141414" stroke="#fff" stroke-width="0.128" textLength="182.16" lengthAdjust="spacingAndGlyphs">Reactome: PTK6 promotes</text>
<text x="398.06" y="820.0" font-size="15.8" font-weight="normal" fill="#141414" stroke="#fff" stroke-width="0.128" textLength="122.82" lengthAdjust="spacingAndGlyphs">HIF1A stabilization</text>
<text x="362.94" y="854.6" font-size="15.8" font-weight="normal" fill="#141414" stroke="#fff" stroke-width="0.128" textLength="158.19" lengthAdjust="spacingAndGlyphs">GOCC: Late endosome</text>
<text x="381.06" y="882.3" font-size="15.8" font-weight="normal" fill="#141414" stroke="#fff" stroke-width="0.128" textLength="138.60" lengthAdjust="spacingAndGlyphs">GOBP: Regulation of</text>
<text x="382.44" y="896.6" font-size="15.8" font-weight="normal" fill="#141414" stroke="#fff" stroke-width="0.128" textLength="138.66" lengthAdjust="spacingAndGlyphs">chaperone mediated</text>
<text x="449.75" y="910.5" font-size="15.8" font-weight="normal" fill="#141414" stroke="#fff" stroke-width="0.128" textLength="70.16" lengthAdjust="spacingAndGlyphs">autophagy</text>
<text x="375.90" y="930.8" font-size="15.8" font-weight="normal" fill="#141414" stroke="#fff" stroke-width="0.128" textLength="144.38" lengthAdjust="spacingAndGlyphs">Warters: Response to</text>
<text x="475.45" y="945.0" font-size="15.8" font-weight="normal" fill="#141414" stroke="#fff" stroke-width="0.128" textLength="45.87" lengthAdjust="spacingAndGlyphs">IR skin</text>
<text x="381.04" y="965.1" font-size="15.8" font-weight="normal" fill="#141414" stroke="#fff" stroke-width="0.128" textLength="139.76" lengthAdjust="spacingAndGlyphs">GOCC: Postsynaptic</text>
<text x="354.00" y="979.5" font-size="15.8" font-weight="normal" fill="#141414" stroke="#fff" stroke-width="0.128" textLength="166.10" lengthAdjust="spacingAndGlyphs">specialization intracellular</text>
<text x="443.62" y="993.4" font-size="15.8" font-weight="normal" fill="#141414" stroke="#fff" stroke-width="0.128" textLength="76.65" lengthAdjust="spacingAndGlyphs">component</text>
<text x="377.54" y="1013.7" font-size="15.8" font-weight="normal" fill="#141414" stroke="#fff" stroke-width="0.128" textLength="142.86" lengthAdjust="spacingAndGlyphs">Burton: Adipogenesis</text>
<text x="435.94" y="1028.0" font-size="15.8" font-weight="normal" fill="#141414" stroke="#fff" stroke-width="0.128" textLength="83.99" lengthAdjust="spacingAndGlyphs">peak at 16hr</text>
<text x="381.04" y="1047.7" font-size="15.8" font-weight="normal" fill="#141414" stroke="#fff" stroke-width="0.128" textLength="139.76" lengthAdjust="spacingAndGlyphs">GOCC: Postsynaptic</text>
<text x="394.27" y="1062.7" font-size="15.8" font-weight="normal" fill="#141414" stroke="#fff" stroke-width="0.128" textLength="126.04" lengthAdjust="spacingAndGlyphs">density intracellular</text>
<text x="443.62" y="1076.5" font-size="15.8" font-weight="normal" fill="#141414" stroke="#fff" stroke-width="0.128" textLength="76.65" lengthAdjust="spacingAndGlyphs">component</text>
<text x="352.16" y="1097.0" font-size="15.8" font-weight="normal" fill="#141414" stroke="#fff" stroke-width="0.128" textLength="169.00" lengthAdjust="spacingAndGlyphs">GOCC: Nuclear envelope</text>
<text x="480.05" y="1111.7" font-size="15.8" font-weight="normal" fill="#141414" stroke="#fff" stroke-width="0.128" textLength="41.04" lengthAdjust="spacingAndGlyphs">lumen</text>
<line x1="531.0" y1="643.3" x2="533.2" y2="643.3" stroke="#666" stroke-width="0.9"/>
<line x1="531.0" y1="684.3" x2="533.2" y2="684.3" stroke="#666" stroke-width="0.9"/>
<line x1="531.0" y1="726.2" x2="533.2" y2="726.2" stroke="#666" stroke-width="0.9"/>
<line x1="531.0" y1="767.7" x2="533.2" y2="767.7" stroke="#666" stroke-width="0.9"/>
<line x1="531.0" y1="809.3" x2="533.2" y2="809.3" stroke="#666" stroke-width="0.9"/>
<line x1="531.0" y1="850.8" x2="533.2" y2="850.8" stroke="#666" stroke-width="0.9"/>
<line x1="531.0" y1="892.3" x2="533.2" y2="892.3" stroke="#666" stroke-width="0.9"/>
<line x1="531.0" y1="933.9" x2="533.2" y2="933.9" stroke="#666" stroke-width="0.9"/>
<line x1="531.0" y1="975.7" x2="533.2" y2="975.7" stroke="#666" stroke-width="0.9"/>
<line x1="531.0" y1="1017.3" x2="533.2" y2="1017.3" stroke="#666" stroke-width="0.9"/>
<line x1="531.0" y1="1058.9" x2="533.2" y2="1058.9" stroke="#666" stroke-width="0.9"/>
<line x1="531.0" y1="1100.3" x2="533.2" y2="1100.3" stroke="#666" stroke-width="0.9"/>
<circle cx="16.50" cy="1188.70" r="10.9" fill="#6283C0" stroke="#465e8a" stroke-width="0.9"/>
<text x="32.40" y="1194.8" font-size="17.0" font-weight="normal" fill="#111" textLength="35.00" lengthAdjust="spacingAndGlyphs">Total</text>
<circle cx="101.00" cy="1188.70" r="10.9" fill="#5E5FA0" stroke="#434473" stroke-width="0.9"/>
<text x="116.51" y="1194.8" font-size="17.0" font-weight="normal" fill="#111" textLength="41.18" lengthAdjust="spacingAndGlyphs">Genu</text>
<circle cx="197.40" cy="1188.70" r="10.9" fill="#CF6B70" stroke="#954d50" stroke-width="0.9"/>
<text x="213.40" y="1194.8" font-size="17.0" font-weight="normal" fill="#111" textLength="101.10" lengthAdjust="spacingAndGlyphs">Anterior Body</text>
<circle cx="344.10" cy="1188.70" r="10.9" fill="#80C9B9" stroke="#5c9085" stroke-width="0.9"/>
<text x="359.11" y="1194.8" font-size="17.0" font-weight="normal" fill="#111" textLength="110.79" lengthAdjust="spacingAndGlyphs">Posterior Body</text>
<circle cx="497.40" cy="1188.70" r="10.9" fill="#985A9E" stroke="#6d4071" stroke-width="0.9"/>
<text x="512.50" y="1194.8" font-size="17.0" font-weight="normal" fill="#111" textLength="59.33" lengthAdjust="spacingAndGlyphs">Isthmus</text>
<circle cx="592.10" cy="1188.70" r="10.9" fill="#E5A067" stroke="#a4734a" stroke-width="0.9"/>
<text x="606.80" y="1194.8" font-size="17.0" font-weight="normal" fill="#111" textLength="71.08" lengthAdjust="spacingAndGlyphs">Splenium</text>
</svg>
</body></html>
